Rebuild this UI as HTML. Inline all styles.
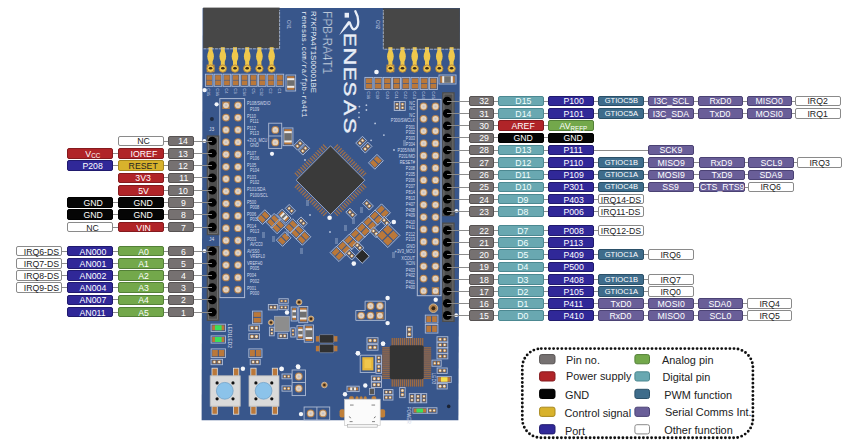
<!DOCTYPE html>
<html><head><meta charset="utf-8"><style>
html,body{margin:0;padding:0;background:#fff;}
body{width:850px;height:445px;overflow:hidden;position:relative;font-family:"Liberation Sans",sans-serif;}
.b{position:absolute;height:8.8px;border:1px solid;border-radius:2px;display:flex;justify-content:center;align-items:center;line-height:8.8px;white-space:nowrap;overflow:visible;box-sizing:content-box;}
.b sub{font-size:6.5px;vertical-align:-1.2px;line-height:0;}
.b .t{display:inline-block;position:relative;top:0.9px;transform:scaleX(0.96);}
.ln{position:absolute;height:1px;background:#8c8c8c;}
svg{position:absolute;left:0;top:0;}
.lg{position:absolute;font-size:10.5px;color:#222;line-height:12px;white-space:nowrap;}
.sw{position:absolute;width:14px;height:8px;border:1px solid;border-radius:2px;}
</style></head><body>
<svg width="850" height="445" viewBox="0 0 850 445" font-family="Liberation Sans, sans-serif">
<path d="M202.6 8 L460 8 L458.4 420.3 L201.6 420.3 Z" fill="#38568b"/>
<rect x="203.2" y="7.6" width="76.4" height="41" fill="#474747"/>
<rect x="383" y="8.4" width="76.8" height="40.6" fill="#474747"/>
<rect x="206.7" y="64.6" width="7.8" height="7.6" fill="#c9913e"/>
<rect x="208.6" y="47.2" width="4" height="20" fill="#efc84c"/>
<ellipse cx="210.6" cy="56.2" rx="3.3" ry="6" fill="#efc84c"/>
<circle cx="210.6" cy="68.6" r="3.7" fill="#efc84c" stroke="#b4823c" stroke-width="0.9"/>
<ellipse cx="210.6" cy="68.3" rx="1.8" ry="1.2" fill="#3a2a18"/>
<rect x="220.8" y="47.2" width="4" height="20" fill="#efc84c"/>
<ellipse cx="222.8" cy="56.2" rx="3.3" ry="6" fill="#efc84c"/>
<circle cx="222.8" cy="68.6" r="3.7" fill="#efc84c" stroke="#b4823c" stroke-width="0.9"/>
<ellipse cx="222.8" cy="68.3" rx="1.8" ry="1.2" fill="#3a2a18"/>
<rect x="233.0" y="47.2" width="4" height="20" fill="#efc84c"/>
<ellipse cx="235.0" cy="56.2" rx="3.3" ry="6" fill="#efc84c"/>
<circle cx="235.0" cy="68.6" r="3.7" fill="#efc84c" stroke="#b4823c" stroke-width="0.9"/>
<ellipse cx="235.0" cy="68.3" rx="1.8" ry="1.2" fill="#3a2a18"/>
<rect x="245.2" y="47.2" width="4" height="20" fill="#efc84c"/>
<ellipse cx="247.2" cy="56.2" rx="3.3" ry="6" fill="#efc84c"/>
<circle cx="247.2" cy="68.6" r="3.7" fill="#efc84c" stroke="#b4823c" stroke-width="0.9"/>
<ellipse cx="247.2" cy="68.3" rx="1.8" ry="1.2" fill="#3a2a18"/>
<rect x="257.4" y="47.2" width="4" height="20" fill="#efc84c"/>
<ellipse cx="259.4" cy="56.2" rx="3.3" ry="6" fill="#efc84c"/>
<circle cx="259.4" cy="68.6" r="3.7" fill="#efc84c" stroke="#b4823c" stroke-width="0.9"/>
<ellipse cx="259.4" cy="68.3" rx="1.8" ry="1.2" fill="#3a2a18"/>
<rect x="269.6" y="47.2" width="4" height="20" fill="#efc84c"/>
<ellipse cx="271.6" cy="56.2" rx="3.3" ry="6" fill="#efc84c"/>
<circle cx="271.6" cy="68.6" r="3.7" fill="#efc84c" stroke="#b4823c" stroke-width="0.9"/>
<ellipse cx="271.6" cy="68.3" rx="1.8" ry="1.2" fill="#3a2a18"/>
<rect x="386.5" y="64.6" width="7.8" height="7.6" fill="#c9913e"/>
<rect x="388.4" y="47.2" width="4" height="20" fill="#efc84c"/>
<ellipse cx="390.4" cy="56.2" rx="3.3" ry="6" fill="#efc84c"/>
<circle cx="390.4" cy="68.6" r="3.7" fill="#efc84c" stroke="#b4823c" stroke-width="0.9"/>
<ellipse cx="390.4" cy="68.3" rx="1.8" ry="1.2" fill="#3a2a18"/>
<rect x="400.5" y="47.2" width="4" height="20" fill="#efc84c"/>
<ellipse cx="402.5" cy="56.2" rx="3.3" ry="6" fill="#efc84c"/>
<circle cx="402.5" cy="68.6" r="3.7" fill="#efc84c" stroke="#b4823c" stroke-width="0.9"/>
<ellipse cx="402.5" cy="68.3" rx="1.8" ry="1.2" fill="#3a2a18"/>
<rect x="412.7" y="47.2" width="4" height="20" fill="#efc84c"/>
<ellipse cx="414.7" cy="56.2" rx="3.3" ry="6" fill="#efc84c"/>
<circle cx="414.7" cy="68.6" r="3.7" fill="#efc84c" stroke="#b4823c" stroke-width="0.9"/>
<ellipse cx="414.7" cy="68.3" rx="1.8" ry="1.2" fill="#3a2a18"/>
<rect x="425.0" y="47.2" width="4" height="20" fill="#efc84c"/>
<ellipse cx="427.0" cy="56.2" rx="3.3" ry="6" fill="#efc84c"/>
<circle cx="427.0" cy="68.6" r="3.7" fill="#efc84c" stroke="#b4823c" stroke-width="0.9"/>
<ellipse cx="427.0" cy="68.3" rx="1.8" ry="1.2" fill="#3a2a18"/>
<rect x="437.3" y="47.2" width="4" height="20" fill="#efc84c"/>
<ellipse cx="439.3" cy="56.2" rx="3.3" ry="6" fill="#efc84c"/>
<circle cx="439.3" cy="68.6" r="3.7" fill="#efc84c" stroke="#b4823c" stroke-width="0.9"/>
<ellipse cx="439.3" cy="68.3" rx="1.8" ry="1.2" fill="#3a2a18"/>
<rect x="449.6" y="47.2" width="4" height="20" fill="#efc84c"/>
<ellipse cx="451.6" cy="56.2" rx="3.3" ry="6" fill="#efc84c"/>
<circle cx="451.6" cy="68.6" r="3.7" fill="#efc84c" stroke="#b4823c" stroke-width="0.9"/>
<ellipse cx="451.6" cy="68.3" rx="1.8" ry="1.2" fill="#3a2a18"/>
<path d="M203.5 48.8 H279.6 V10" fill="none" stroke="#b9c6de" stroke-width="0.8" stroke-dasharray="3 0.8"/>
<path d="M459.6 49.2 H383.3 V10" fill="none" stroke="#b9c6de" stroke-width="0.8" stroke-dasharray="3 0.8"/>
<rect x="205.4" y="74.2" width="7.6" height="12.1" fill="none" stroke="#aebbd4" stroke-width="0.9"/>
<rect x="206.4" y="75.2" width="5.6" height="4.7" fill="#ba783a"/>
<rect x="206.4" y="80.5" width="5.6" height="4.7" fill="#ba783a"/>
<rect x="214.2" y="74.2" width="7.6" height="12.1" fill="none" stroke="#aebbd4" stroke-width="0.9"/>
<rect x="215.2" y="75.2" width="5.6" height="4.7" fill="#ba783a"/>
<rect x="215.2" y="80.5" width="5.6" height="4.7" fill="#ba783a"/>
<rect x="223.1" y="74.2" width="7.6" height="12.1" fill="none" stroke="#aebbd4" stroke-width="0.9"/>
<rect x="224.1" y="75.2" width="5.6" height="4.7" fill="#ba783a"/>
<rect x="224.1" y="80.5" width="5.6" height="4.7" fill="#ba783a"/>
<rect x="231.9" y="74.2" width="7.6" height="12.1" fill="none" stroke="#aebbd4" stroke-width="0.9"/>
<rect x="232.9" y="75.2" width="5.6" height="4.7" fill="#ba783a"/>
<rect x="232.9" y="80.5" width="5.6" height="4.7" fill="#ba783a"/>
<rect x="240.7" y="74.2" width="7.6" height="12.1" fill="none" stroke="#aebbd4" stroke-width="0.9"/>
<rect x="241.7" y="75.2" width="5.6" height="4.7" fill="#ba783a"/>
<rect x="241.7" y="80.5" width="5.6" height="4.7" fill="#ba783a"/>
<rect x="249.6" y="74.2" width="7.6" height="12.1" fill="none" stroke="#aebbd4" stroke-width="0.9"/>
<rect x="250.6" y="75.2" width="5.6" height="4.7" fill="#ba783a"/>
<rect x="250.6" y="80.5" width="5.6" height="4.7" fill="#ba783a"/>
<rect x="258.4" y="74.2" width="7.6" height="12.1" fill="none" stroke="#aebbd4" stroke-width="0.9"/>
<rect x="259.4" y="75.2" width="5.6" height="4.7" fill="#ba783a"/>
<rect x="259.4" y="80.5" width="5.6" height="4.7" fill="#ba783a"/>
<rect x="267.2" y="74.2" width="7.6" height="12.1" fill="none" stroke="#aebbd4" stroke-width="0.9"/>
<rect x="268.2" y="75.2" width="5.6" height="4.7" fill="#ba783a"/>
<rect x="268.2" y="80.5" width="5.6" height="4.7" fill="#ba783a"/>
<rect x="276.1" y="74.2" width="7.6" height="12.1" fill="none" stroke="#aebbd4" stroke-width="0.9"/>
<rect x="277.1" y="75.2" width="5.6" height="4.7" fill="#ba783a"/>
<rect x="277.1" y="80.5" width="5.6" height="4.7" fill="#ba783a"/>
<rect x="364.9" y="77.4" width="8.0" height="12.1" fill="none" stroke="#aebbd4" stroke-width="0.9"/>
<rect x="365.9" y="78.4" width="6.0" height="4.7" fill="#ba783a"/>
<rect x="365.9" y="83.8" width="6.0" height="4.7" fill="#ba783a"/>
<rect x="374.1" y="77.4" width="8.0" height="12.1" fill="none" stroke="#aebbd4" stroke-width="0.9"/>
<rect x="375.1" y="78.4" width="6.0" height="4.7" fill="#ba783a"/>
<rect x="375.1" y="83.8" width="6.0" height="4.7" fill="#ba783a"/>
<rect x="383.3" y="77.4" width="8.0" height="12.1" fill="none" stroke="#aebbd4" stroke-width="0.9"/>
<rect x="384.3" y="78.4" width="6.0" height="4.7" fill="#ba783a"/>
<rect x="384.3" y="83.8" width="6.0" height="4.7" fill="#ba783a"/>
<rect x="392.5" y="77.4" width="8.0" height="12.1" fill="none" stroke="#aebbd4" stroke-width="0.9"/>
<rect x="393.5" y="78.4" width="6.0" height="4.7" fill="#ba783a"/>
<rect x="393.5" y="83.8" width="6.0" height="4.7" fill="#ba783a"/>
<rect x="401.8" y="77.4" width="8.0" height="12.1" fill="none" stroke="#aebbd4" stroke-width="0.9"/>
<rect x="402.8" y="78.4" width="6.0" height="4.7" fill="#ba783a"/>
<rect x="402.8" y="83.8" width="6.0" height="4.7" fill="#ba783a"/>
<rect x="411.0" y="77.4" width="8.0" height="12.1" fill="none" stroke="#aebbd4" stroke-width="0.9"/>
<rect x="412.0" y="78.4" width="6.0" height="4.7" fill="#ba783a"/>
<rect x="412.0" y="83.8" width="6.0" height="4.7" fill="#ba783a"/>
<rect x="420.2" y="77.4" width="8.0" height="12.1" fill="none" stroke="#aebbd4" stroke-width="0.9"/>
<rect x="421.2" y="78.4" width="6.0" height="4.7" fill="#ba783a"/>
<rect x="421.2" y="83.8" width="6.0" height="4.7" fill="#ba783a"/>
<rect x="429.4" y="77.4" width="8.0" height="12.1" fill="none" stroke="#aebbd4" stroke-width="0.9"/>
<rect x="430.4" y="78.4" width="6.0" height="4.7" fill="#ba783a"/>
<rect x="430.4" y="83.8" width="6.0" height="4.7" fill="#ba783a"/>
<g transform="translate(290.80,83.00) rotate(90)">
<rect x="-8.00" y="-4.85" width="16.00" height="9.70" fill="none" stroke="#aebbd4" stroke-width="0.9"/>
<rect x="-6.80" y="-3.65" width="13.60" height="7.30" fill="#ba783a"/>
<rect x="-4.80" y="-3.65" width="9.60" height="7.30" fill="#ececec"/>
<rect x="-2.80" y="-3.65" width="5.60" height="7.30" fill="#6f6f6f"/>
</g>
<g transform="translate(447.50,79.50) rotate(0)">
<rect x="-8.50" y="-4.50" width="17.00" height="9.00" fill="none" stroke="#aebbd4" stroke-width="0.9"/>
<rect x="-7.30" y="-3.30" width="14.60" height="6.60" fill="#ba783a"/>
<rect x="-5.30" y="-3.30" width="10.60" height="6.60" fill="#ececec"/>
<rect x="-3.30" y="-3.30" width="6.60" height="6.60" fill="#6f6f6f"/>
</g>
<text transform="translate(207.4,88.2) rotate(90)" font-size="4.2" fill="#c3cde2">C35</text>
<text transform="translate(216.2,88.2) rotate(90)" font-size="4.2" fill="#c3cde2">C36</text>
<text transform="translate(225.1,88.2) rotate(90)" font-size="4.2" fill="#c3cde2">C4</text>
<text transform="translate(233.9,88.2) rotate(90)" font-size="4.2" fill="#c3cde2">C3</text>
<text transform="translate(242.8,88.2) rotate(90)" font-size="4.2" fill="#c3cde2">C34</text>
<text transform="translate(251.6,88.2) rotate(90)" font-size="4.2" fill="#c3cde2">C5</text>
<text transform="translate(260.4,88.2) rotate(90)" font-size="4.2" fill="#c3cde2">C32</text>
<text transform="translate(269.2,88.2) rotate(90)" font-size="4.2" fill="#c3cde2">C2</text>
<text transform="translate(278.1,88.2) rotate(90)" font-size="4.2" fill="#c3cde2">C1</text>
<text transform="translate(367.1,91.2) rotate(90)" font-size="4.2" fill="#c3cde2">C38</text>
<text transform="translate(376.3,91.2) rotate(90)" font-size="4.2" fill="#c3cde2">C39</text>
<text transform="translate(385.5,91.2) rotate(90)" font-size="4.2" fill="#c3cde2">C40</text>
<text transform="translate(394.7,91.2) rotate(90)" font-size="4.2" fill="#c3cde2">C41</text>
<text transform="translate(404.0,91.2) rotate(90)" font-size="4.2" fill="#c3cde2">C42</text>
<text transform="translate(413.2,91.2) rotate(90)" font-size="4.2" fill="#c3cde2">C43</text>
<text transform="translate(422.4,91.2) rotate(90)" font-size="4.2" fill="#c3cde2">C44</text>
<text transform="translate(431.6,91.2) rotate(90)" font-size="4.2" fill="#c3cde2">C45</text>
<circle cx="204.6" cy="90.1" r="2.2" fill="#f4f6fa"/>
<circle cx="216.6" cy="104.3" r="2.1" fill="#f4f6fa"/>
<circle cx="211.9" cy="119.1" r="2.0" fill="#1e2a40"/>
<circle cx="376.5" cy="72.0" r="2.3" fill="#f4f6fa"/>
<g fill="#e9eef7">
<text transform="translate(301.6,11) rotate(90)" font-size="7.4" font-family="Liberation Mono">renesas.com/ra/fpb-ra4t1</text>
<text transform="translate(311.3,11) rotate(90)" font-size="7.8" letter-spacing="0.1">R7KFPA4T1S00001BE</text>
<text transform="translate(322.5,11) rotate(90)" font-size="12" letter-spacing="-0.2" stroke="#38568b" stroke-width="0.4">FPB-RA4T1</text>
<text transform="translate(343.5,34.75) rotate(90) scale(1.257,1)" x="-1.31" font-size="16" stroke="#e9eef7" stroke-width="0.40">E</text>
<text transform="translate(343.5,49.35) rotate(90) scale(1.589,1)" x="-1.31" font-size="16" stroke="#e9eef7" stroke-width="0.31">N</text>
<text transform="translate(343.5,68.45) rotate(90) scale(1.303,1)" x="-1.31" font-size="16" stroke="#e9eef7" stroke-width="0.38">E</text>
<text transform="translate(343.5,82.55) rotate(90) scale(1.379,1)" x="-0.73" font-size="16" stroke="#e9eef7" stroke-width="0.36">S</text>
<text transform="translate(343.5,99.95) rotate(90) scale(1.414,1)" x="-0.03" font-size="16" stroke="#e9eef7" stroke-width="0.35">A</text>
<text transform="translate(343.5,118.75) rotate(90) scale(1.466,1)" x="-0.73" font-size="16" stroke="#e9eef7" stroke-width="0.34">S</text>
</g>
<rect x="344.6" y="12.8" width="4.4" height="4.8" fill="#e9eef7"/>
<path d="M355.3 11.2 C358.9 17.2, 359.9 27.6, 354.3 29.3 C352.6 29.8, 351.6 27.5, 349.6 22.4" fill="none" stroke="#e9eef7" stroke-width="2.3" stroke-linecap="round"/>
<path d="M348.3 21.0 Q343.2 27.4, 339.2 35.2 Q345.2 29.6, 350.5 22.9 Z" fill="#e9eef7"/>
<text transform="translate(287,20) rotate(90)" font-size="4.5" fill="#c9d3e6">CN1</text>
<text transform="translate(376,20) rotate(90)" font-size="4.5" fill="#c9d3e6">CN2</text>
<rect x="219.8" y="98.6" width="24.799999999999983" height="199.00000000000003" fill="none" stroke="#aebbd4" stroke-width="1"/>
<rect x="222.3" y="101.6" width="7.4" height="7.4" fill="#b5804a"/>
<circle cx="226.0" cy="105.3" r="2.9" fill="#e3d2bf"/>
<circle cx="226.0" cy="105.3" r="1.0" fill="#b9bfd0"/>
<circle cx="238.0" cy="105.3" r="3.9" fill="#b5804a"/>
<circle cx="238.0" cy="105.3" r="2.9" fill="#e3d2bf"/>
<circle cx="238.0" cy="105.3" r="1.0" fill="#b9bfd0"/>
<circle cx="226.0" cy="117.6" r="3.9" fill="#b5804a"/>
<circle cx="226.0" cy="117.6" r="2.9" fill="#e3d2bf"/>
<circle cx="226.0" cy="117.6" r="1.0" fill="#b9bfd0"/>
<circle cx="238.0" cy="117.6" r="3.9" fill="#b5804a"/>
<circle cx="238.0" cy="117.6" r="2.9" fill="#e3d2bf"/>
<circle cx="238.0" cy="117.6" r="1.0" fill="#b9bfd0"/>
<circle cx="226.0" cy="129.9" r="3.9" fill="#b5804a"/>
<circle cx="226.0" cy="129.9" r="2.9" fill="#e3d2bf"/>
<circle cx="226.0" cy="129.9" r="1.0" fill="#b9bfd0"/>
<circle cx="238.0" cy="129.9" r="3.9" fill="#b5804a"/>
<circle cx="238.0" cy="129.9" r="2.9" fill="#e3d2bf"/>
<circle cx="238.0" cy="129.9" r="1.0" fill="#b9bfd0"/>
<circle cx="226.0" cy="142.2" r="3.9" fill="#b5804a"/>
<circle cx="226.0" cy="142.2" r="2.9" fill="#e3d2bf"/>
<circle cx="226.0" cy="142.2" r="1.0" fill="#b9bfd0"/>
<circle cx="238.0" cy="142.2" r="3.9" fill="#b5804a"/>
<circle cx="238.0" cy="142.2" r="2.9" fill="#e3d2bf"/>
<circle cx="238.0" cy="142.2" r="1.0" fill="#b9bfd0"/>
<circle cx="226.0" cy="154.5" r="3.9" fill="#b5804a"/>
<circle cx="226.0" cy="154.5" r="2.9" fill="#e3d2bf"/>
<circle cx="226.0" cy="154.5" r="1.0" fill="#b9bfd0"/>
<circle cx="238.0" cy="154.5" r="3.9" fill="#b5804a"/>
<circle cx="238.0" cy="154.5" r="2.9" fill="#e3d2bf"/>
<circle cx="238.0" cy="154.5" r="1.0" fill="#b9bfd0"/>
<circle cx="226.0" cy="166.8" r="3.9" fill="#b5804a"/>
<circle cx="226.0" cy="166.8" r="2.9" fill="#e3d2bf"/>
<circle cx="226.0" cy="166.8" r="1.0" fill="#b9bfd0"/>
<circle cx="238.0" cy="166.8" r="3.9" fill="#b5804a"/>
<circle cx="238.0" cy="166.8" r="2.9" fill="#e3d2bf"/>
<circle cx="238.0" cy="166.8" r="1.0" fill="#b9bfd0"/>
<circle cx="226.0" cy="179.0" r="3.9" fill="#b5804a"/>
<circle cx="226.0" cy="179.0" r="2.9" fill="#e3d2bf"/>
<circle cx="226.0" cy="179.0" r="1.0" fill="#b9bfd0"/>
<circle cx="238.0" cy="179.0" r="3.9" fill="#b5804a"/>
<circle cx="238.0" cy="179.0" r="2.9" fill="#e3d2bf"/>
<circle cx="238.0" cy="179.0" r="1.0" fill="#b9bfd0"/>
<circle cx="226.0" cy="191.3" r="3.9" fill="#b5804a"/>
<circle cx="226.0" cy="191.3" r="2.9" fill="#e3d2bf"/>
<circle cx="226.0" cy="191.3" r="1.0" fill="#b9bfd0"/>
<circle cx="238.0" cy="191.3" r="3.9" fill="#b5804a"/>
<circle cx="238.0" cy="191.3" r="2.9" fill="#e3d2bf"/>
<circle cx="238.0" cy="191.3" r="1.0" fill="#b9bfd0"/>
<circle cx="226.0" cy="203.6" r="3.9" fill="#b5804a"/>
<circle cx="226.0" cy="203.6" r="2.9" fill="#e3d2bf"/>
<circle cx="226.0" cy="203.6" r="1.0" fill="#b9bfd0"/>
<circle cx="238.0" cy="203.6" r="3.9" fill="#b5804a"/>
<circle cx="238.0" cy="203.6" r="2.9" fill="#e3d2bf"/>
<circle cx="238.0" cy="203.6" r="1.0" fill="#b9bfd0"/>
<circle cx="226.0" cy="215.9" r="3.9" fill="#b5804a"/>
<circle cx="226.0" cy="215.9" r="2.9" fill="#e3d2bf"/>
<circle cx="226.0" cy="215.9" r="1.0" fill="#b9bfd0"/>
<circle cx="238.0" cy="215.9" r="3.9" fill="#b5804a"/>
<circle cx="238.0" cy="215.9" r="2.9" fill="#e3d2bf"/>
<circle cx="238.0" cy="215.9" r="1.0" fill="#b9bfd0"/>
<circle cx="226.0" cy="228.2" r="3.9" fill="#b5804a"/>
<circle cx="226.0" cy="228.2" r="2.9" fill="#e3d2bf"/>
<circle cx="226.0" cy="228.2" r="1.0" fill="#b9bfd0"/>
<circle cx="238.0" cy="228.2" r="3.9" fill="#b5804a"/>
<circle cx="238.0" cy="228.2" r="2.9" fill="#e3d2bf"/>
<circle cx="238.0" cy="228.2" r="1.0" fill="#b9bfd0"/>
<circle cx="226.0" cy="240.5" r="3.9" fill="#b5804a"/>
<circle cx="226.0" cy="240.5" r="2.9" fill="#e3d2bf"/>
<circle cx="226.0" cy="240.5" r="1.0" fill="#b9bfd0"/>
<circle cx="238.0" cy="240.5" r="3.9" fill="#b5804a"/>
<circle cx="238.0" cy="240.5" r="2.9" fill="#e3d2bf"/>
<circle cx="238.0" cy="240.5" r="1.0" fill="#b9bfd0"/>
<circle cx="226.0" cy="252.8" r="3.9" fill="#b5804a"/>
<circle cx="226.0" cy="252.8" r="2.9" fill="#e3d2bf"/>
<circle cx="226.0" cy="252.8" r="1.0" fill="#b9bfd0"/>
<circle cx="238.0" cy="252.8" r="3.9" fill="#b5804a"/>
<circle cx="238.0" cy="252.8" r="2.9" fill="#e3d2bf"/>
<circle cx="238.0" cy="252.8" r="1.0" fill="#b9bfd0"/>
<circle cx="226.0" cy="265.1" r="3.9" fill="#b5804a"/>
<circle cx="226.0" cy="265.1" r="2.9" fill="#e3d2bf"/>
<circle cx="226.0" cy="265.1" r="1.0" fill="#b9bfd0"/>
<circle cx="238.0" cy="265.1" r="3.9" fill="#b5804a"/>
<circle cx="238.0" cy="265.1" r="2.9" fill="#e3d2bf"/>
<circle cx="238.0" cy="265.1" r="1.0" fill="#b9bfd0"/>
<circle cx="226.0" cy="277.4" r="3.9" fill="#b5804a"/>
<circle cx="226.0" cy="277.4" r="2.9" fill="#e3d2bf"/>
<circle cx="226.0" cy="277.4" r="1.0" fill="#b9bfd0"/>
<circle cx="238.0" cy="277.4" r="3.9" fill="#b5804a"/>
<circle cx="238.0" cy="277.4" r="2.9" fill="#e3d2bf"/>
<circle cx="238.0" cy="277.4" r="1.0" fill="#b9bfd0"/>
<circle cx="226.0" cy="289.6" r="3.9" fill="#b5804a"/>
<circle cx="226.0" cy="289.6" r="2.9" fill="#e3d2bf"/>
<circle cx="226.0" cy="289.6" r="1.0" fill="#b9bfd0"/>
<circle cx="238.0" cy="289.6" r="3.9" fill="#b5804a"/>
<circle cx="238.0" cy="289.6" r="2.9" fill="#e3d2bf"/>
<circle cx="238.0" cy="289.6" r="1.0" fill="#b9bfd0"/>
<rect x="417.3" y="99.4" width="23.69999999999999" height="196.29999999999998" fill="none" stroke="#aebbd4" stroke-width="1"/>
<circle cx="423.6" cy="106.5" r="3.9" fill="#b5804a"/>
<circle cx="423.6" cy="106.5" r="2.9" fill="#e3d2bf"/>
<circle cx="423.6" cy="106.5" r="1.0" fill="#b9bfd0"/>
<circle cx="435.5" cy="106.5" r="3.9" fill="#b5804a"/>
<circle cx="435.5" cy="106.5" r="2.9" fill="#e3d2bf"/>
<circle cx="435.5" cy="106.5" r="1.0" fill="#b9bfd0"/>
<circle cx="423.6" cy="118.8" r="3.9" fill="#b5804a"/>
<circle cx="423.6" cy="118.8" r="2.9" fill="#e3d2bf"/>
<circle cx="423.6" cy="118.8" r="1.0" fill="#b9bfd0"/>
<circle cx="435.5" cy="118.8" r="3.9" fill="#b5804a"/>
<circle cx="435.5" cy="118.8" r="2.9" fill="#e3d2bf"/>
<circle cx="435.5" cy="118.8" r="1.0" fill="#b9bfd0"/>
<circle cx="423.6" cy="131.1" r="3.9" fill="#b5804a"/>
<circle cx="423.6" cy="131.1" r="2.9" fill="#e3d2bf"/>
<circle cx="423.6" cy="131.1" r="1.0" fill="#b9bfd0"/>
<circle cx="435.5" cy="131.1" r="3.9" fill="#b5804a"/>
<circle cx="435.5" cy="131.1" r="2.9" fill="#e3d2bf"/>
<circle cx="435.5" cy="131.1" r="1.0" fill="#b9bfd0"/>
<circle cx="423.6" cy="143.4" r="3.9" fill="#b5804a"/>
<circle cx="423.6" cy="143.4" r="2.9" fill="#e3d2bf"/>
<circle cx="423.6" cy="143.4" r="1.0" fill="#b9bfd0"/>
<circle cx="435.5" cy="143.4" r="3.9" fill="#b5804a"/>
<circle cx="435.5" cy="143.4" r="2.9" fill="#e3d2bf"/>
<circle cx="435.5" cy="143.4" r="1.0" fill="#b9bfd0"/>
<circle cx="423.6" cy="155.7" r="3.9" fill="#b5804a"/>
<circle cx="423.6" cy="155.7" r="2.9" fill="#e3d2bf"/>
<circle cx="423.6" cy="155.7" r="1.0" fill="#b9bfd0"/>
<circle cx="435.5" cy="155.7" r="3.9" fill="#b5804a"/>
<circle cx="435.5" cy="155.7" r="2.9" fill="#e3d2bf"/>
<circle cx="435.5" cy="155.7" r="1.0" fill="#b9bfd0"/>
<circle cx="423.6" cy="167.9" r="3.9" fill="#b5804a"/>
<circle cx="423.6" cy="167.9" r="2.9" fill="#e3d2bf"/>
<circle cx="423.6" cy="167.9" r="1.0" fill="#b9bfd0"/>
<circle cx="435.5" cy="167.9" r="3.9" fill="#b5804a"/>
<circle cx="435.5" cy="167.9" r="2.9" fill="#e3d2bf"/>
<circle cx="435.5" cy="167.9" r="1.0" fill="#b9bfd0"/>
<circle cx="423.6" cy="180.2" r="3.9" fill="#b5804a"/>
<circle cx="423.6" cy="180.2" r="2.9" fill="#e3d2bf"/>
<circle cx="423.6" cy="180.2" r="1.0" fill="#b9bfd0"/>
<circle cx="435.5" cy="180.2" r="3.9" fill="#b5804a"/>
<circle cx="435.5" cy="180.2" r="2.9" fill="#e3d2bf"/>
<circle cx="435.5" cy="180.2" r="1.0" fill="#b9bfd0"/>
<circle cx="423.6" cy="192.5" r="3.9" fill="#b5804a"/>
<circle cx="423.6" cy="192.5" r="2.9" fill="#e3d2bf"/>
<circle cx="423.6" cy="192.5" r="1.0" fill="#b9bfd0"/>
<circle cx="435.5" cy="192.5" r="3.9" fill="#b5804a"/>
<circle cx="435.5" cy="192.5" r="2.9" fill="#e3d2bf"/>
<circle cx="435.5" cy="192.5" r="1.0" fill="#b9bfd0"/>
<circle cx="423.6" cy="204.8" r="3.9" fill="#b5804a"/>
<circle cx="423.6" cy="204.8" r="2.9" fill="#e3d2bf"/>
<circle cx="423.6" cy="204.8" r="1.0" fill="#b9bfd0"/>
<circle cx="435.5" cy="204.8" r="3.9" fill="#b5804a"/>
<circle cx="435.5" cy="204.8" r="2.9" fill="#e3d2bf"/>
<circle cx="435.5" cy="204.8" r="1.0" fill="#b9bfd0"/>
<circle cx="423.6" cy="217.1" r="3.9" fill="#b5804a"/>
<circle cx="423.6" cy="217.1" r="2.9" fill="#e3d2bf"/>
<circle cx="423.6" cy="217.1" r="1.0" fill="#b9bfd0"/>
<circle cx="435.5" cy="217.1" r="3.9" fill="#b5804a"/>
<circle cx="435.5" cy="217.1" r="2.9" fill="#e3d2bf"/>
<circle cx="435.5" cy="217.1" r="1.0" fill="#b9bfd0"/>
<circle cx="423.6" cy="229.4" r="3.9" fill="#b5804a"/>
<circle cx="423.6" cy="229.4" r="2.9" fill="#e3d2bf"/>
<circle cx="423.6" cy="229.4" r="1.0" fill="#b9bfd0"/>
<circle cx="435.5" cy="229.4" r="3.9" fill="#b5804a"/>
<circle cx="435.5" cy="229.4" r="2.9" fill="#e3d2bf"/>
<circle cx="435.5" cy="229.4" r="1.0" fill="#b9bfd0"/>
<circle cx="423.6" cy="241.7" r="3.9" fill="#b5804a"/>
<circle cx="423.6" cy="241.7" r="2.9" fill="#e3d2bf"/>
<circle cx="423.6" cy="241.7" r="1.0" fill="#b9bfd0"/>
<circle cx="435.5" cy="241.7" r="3.9" fill="#b5804a"/>
<circle cx="435.5" cy="241.7" r="2.9" fill="#e3d2bf"/>
<circle cx="435.5" cy="241.7" r="1.0" fill="#b9bfd0"/>
<circle cx="423.6" cy="254.0" r="3.9" fill="#b5804a"/>
<circle cx="423.6" cy="254.0" r="2.9" fill="#e3d2bf"/>
<circle cx="423.6" cy="254.0" r="1.0" fill="#b9bfd0"/>
<circle cx="435.5" cy="254.0" r="3.9" fill="#b5804a"/>
<circle cx="435.5" cy="254.0" r="2.9" fill="#e3d2bf"/>
<circle cx="435.5" cy="254.0" r="1.0" fill="#b9bfd0"/>
<circle cx="423.6" cy="266.3" r="3.9" fill="#b5804a"/>
<circle cx="423.6" cy="266.3" r="2.9" fill="#e3d2bf"/>
<circle cx="423.6" cy="266.3" r="1.0" fill="#b9bfd0"/>
<circle cx="435.5" cy="266.3" r="3.9" fill="#b5804a"/>
<circle cx="435.5" cy="266.3" r="2.9" fill="#e3d2bf"/>
<circle cx="435.5" cy="266.3" r="1.0" fill="#b9bfd0"/>
<circle cx="423.6" cy="278.6" r="3.9" fill="#b5804a"/>
<circle cx="423.6" cy="278.6" r="2.9" fill="#e3d2bf"/>
<circle cx="423.6" cy="278.6" r="1.0" fill="#b9bfd0"/>
<circle cx="435.5" cy="278.6" r="3.9" fill="#b5804a"/>
<circle cx="435.5" cy="278.6" r="2.9" fill="#e3d2bf"/>
<circle cx="435.5" cy="278.6" r="1.0" fill="#b9bfd0"/>
<circle cx="423.6" cy="290.9" r="3.9" fill="#b5804a"/>
<circle cx="423.6" cy="290.9" r="2.9" fill="#e3d2bf"/>
<circle cx="423.6" cy="290.9" r="1.0" fill="#b9bfd0"/>
<rect x="431.8" y="287.2" width="7.4" height="7.4" fill="#b5804a"/>
<circle cx="435.5" cy="290.9" r="2.9" fill="#e3d2bf"/>
<circle cx="435.5" cy="290.9" r="1.0" fill="#b9bfd0"/>
<text transform="translate(247,105.3) scale(0.82,1)" font-size="4.8" fill="#d5dceb">P108/SWDIO</text>
<text transform="translate(250,110.5) scale(0.82,1)" font-size="4.8" fill="#d5dceb">P109</text>
<text transform="translate(247,117.6) scale(0.82,1)" font-size="4.8" fill="#d5dceb">P110</text>
<text transform="translate(250,122.8) scale(0.82,1)" font-size="4.8" fill="#d5dceb">P111</text>
<text transform="translate(247,129.9) scale(0.82,1)" font-size="4.8" fill="#d5dceb">P112</text>
<text transform="translate(250,135.1) scale(0.82,1)" font-size="4.8" fill="#d5dceb">P113</text>
<text transform="translate(247,142.2) scale(0.82,1)" font-size="4.8" fill="#d5dceb">+3V3_MCU</text>
<text transform="translate(250,147.4) scale(0.82,1)" font-size="4.8" fill="#d5dceb">GND</text>
<text transform="translate(247,154.5) scale(0.82,1)" font-size="4.8" fill="#d5dceb">P107</text>
<text transform="translate(250,159.7) scale(0.82,1)" font-size="4.8" fill="#d5dceb">P106</text>
<text transform="translate(247,166.8) scale(0.82,1)" font-size="4.8" fill="#d5dceb">P105</text>
<text transform="translate(250,171.9) scale(0.82,1)" font-size="4.8" fill="#d5dceb">P104</text>
<text transform="translate(247,179.0) scale(0.82,1)" font-size="4.8" fill="#d5dceb">P103</text>
<text transform="translate(250,184.2) scale(0.82,1)" font-size="4.8" fill="#d5dceb">P102</text>
<text transform="translate(247,191.3) scale(0.82,1)" font-size="4.8" fill="#d5dceb">P101/SDA</text>
<text transform="translate(250,196.5) scale(0.82,1)" font-size="4.8" fill="#d5dceb">P100/SCL</text>
<text transform="translate(247,203.6) scale(0.82,1)" font-size="4.8" fill="#d5dceb">P500</text>
<text transform="translate(250,208.8) scale(0.82,1)" font-size="4.8" fill="#d5dceb">P008</text>
<text transform="translate(247,215.9) scale(0.82,1)" font-size="4.8" fill="#d5dceb">P006</text>
<text transform="translate(250,221.1) scale(0.82,1)" font-size="4.8" fill="#d5dceb">P015</text>
<text transform="translate(247,228.2) scale(0.82,1)" font-size="4.8" fill="#d5dceb">P014</text>
<text transform="translate(250,233.4) scale(0.82,1)" font-size="4.8" fill="#d5dceb">P013</text>
<text transform="translate(247,240.5) scale(0.82,1)" font-size="4.8" fill="#d5dceb">P003</text>
<text transform="translate(250,245.7) scale(0.82,1)" font-size="4.8" fill="#d5dceb">AVCC0</text>
<text transform="translate(247,252.8) scale(0.82,1)" font-size="4.8" fill="#d5dceb">AVSS0</text>
<text transform="translate(250,258.0) scale(0.82,1)" font-size="4.8" fill="#d5dceb">VREFL0</text>
<text transform="translate(247,265.1) scale(0.82,1)" font-size="4.8" fill="#d5dceb">VREFH0</text>
<text transform="translate(250,270.3) scale(0.82,1)" font-size="4.8" fill="#d5dceb">P005</text>
<text transform="translate(247,277.4) scale(0.82,1)" font-size="4.8" fill="#d5dceb">P004</text>
<text transform="translate(250,282.6) scale(0.82,1)" font-size="4.8" fill="#d5dceb">P002</text>
<text transform="translate(247,289.6) scale(0.82,1)" font-size="4.8" fill="#d5dceb">P001</text>
<text transform="translate(250,294.8) scale(0.82,1)" font-size="4.8" fill="#d5dceb">P000</text>
<text transform="translate(415,104.6) scale(0.82,1)" font-size="4.8" fill="#d5dceb" text-anchor="end">NC</text>
<text transform="translate(415,109.9) scale(0.82,1)" font-size="4.8" fill="#d5dceb" text-anchor="end">NC</text>
<text transform="translate(415,116.5) scale(0.82,1)" font-size="4.8" fill="#d5dceb" text-anchor="end">NC</text>
<text transform="translate(415,121.8) scale(0.82,1)" font-size="4.8" fill="#d5dceb" text-anchor="end">P300/SWCLK</text>
<text transform="translate(415,128.5) scale(0.82,1)" font-size="4.8" fill="#d5dceb" text-anchor="end">P301</text>
<text transform="translate(415,133.8) scale(0.82,1)" font-size="4.8" fill="#d5dceb" text-anchor="end">P302</text>
<text transform="translate(415,140.4) scale(0.82,1)" font-size="4.8" fill="#d5dceb" text-anchor="end">P303</text>
<text transform="translate(415,145.8) scale(0.82,1)" font-size="4.8" fill="#d5dceb" text-anchor="end">P304</text>
<text transform="translate(415,152.4) scale(0.82,1)" font-size="4.8" fill="#d5dceb" text-anchor="end">P205/NMI</text>
<text transform="translate(415,157.7) scale(0.82,1)" font-size="4.8" fill="#d5dceb" text-anchor="end">P201/MD</text>
<text transform="translate(415,164.3) scale(0.82,1)" font-size="4.8" fill="#d5dceb" text-anchor="end">RESET#</text>
<text transform="translate(415,169.7) scale(0.82,1)" font-size="4.8" fill="#d5dceb" text-anchor="end">P208</text>
<text transform="translate(415,176.3) scale(0.82,1)" font-size="4.8" fill="#d5dceb" text-anchor="end">P205</text>
<text transform="translate(415,181.6) scale(0.82,1)" font-size="4.8" fill="#d5dceb" text-anchor="end">P206</text>
<text transform="translate(415,188.2) scale(0.82,1)" font-size="4.8" fill="#d5dceb" text-anchor="end">P207</text>
<text transform="translate(415,193.6) scale(0.82,1)" font-size="4.8" fill="#d5dceb" text-anchor="end">P814</text>
<text transform="translate(415,200.2) scale(0.82,1)" font-size="4.8" fill="#d5dceb" text-anchor="end">P813</text>
<text transform="translate(415,205.5) scale(0.82,1)" font-size="4.8" fill="#d5dceb" text-anchor="end">P407</text>
<text transform="translate(415,212.1) scale(0.82,1)" font-size="4.8" fill="#d5dceb" text-anchor="end">P408</text>
<text transform="translate(415,217.4) scale(0.82,1)" font-size="4.8" fill="#d5dceb" text-anchor="end">P409</text>
<text transform="translate(415,224.1) scale(0.82,1)" font-size="4.8" fill="#d5dceb" text-anchor="end">P410</text>
<text transform="translate(415,229.4) scale(0.82,1)" font-size="4.8" fill="#d5dceb" text-anchor="end">P411</text>
<text transform="translate(415,236.0) scale(0.82,1)" font-size="4.8" fill="#d5dceb" text-anchor="end">P212</text>
<text transform="translate(415,241.3) scale(0.82,1)" font-size="4.8" fill="#d5dceb" text-anchor="end">P213</text>
<text transform="translate(415,248.0) scale(0.82,1)" font-size="4.8" fill="#d5dceb" text-anchor="end">GND</text>
<text transform="translate(415,253.3) scale(0.82,1)" font-size="4.8" fill="#d5dceb" text-anchor="end">+3V3_MCU</text>
<text transform="translate(415,259.9) scale(0.82,1)" font-size="4.8" fill="#d5dceb" text-anchor="end">XCOUT</text>
<text transform="translate(415,265.2) scale(0.82,1)" font-size="4.8" fill="#d5dceb" text-anchor="end">XCIN</text>
<text transform="translate(415,271.9) scale(0.82,1)" font-size="4.8" fill="#d5dceb" text-anchor="end">P403</text>
<text transform="translate(415,277.2) scale(0.82,1)" font-size="4.8" fill="#d5dceb" text-anchor="end">P402</text>
<text transform="translate(415,283.9) scale(0.82,1)" font-size="4.8" fill="#d5dceb" text-anchor="end">P401</text>
<text transform="translate(415,289.2) scale(0.82,1)" font-size="4.8" fill="#d5dceb" text-anchor="end">P400</text>
<rect x="206.7" y="135.4" width="12.600000000000023" height="99.79999999999998" fill="#4d4d4d"/>
<rect x="208.5" y="137.20000000000002" width="9.000000000000023" height="96.19999999999999" fill="none" stroke="#777" stroke-width="0.8"/>
<circle cx="212.3" cy="141.0" r="4.3" fill="#000"/>
<circle cx="212.3" cy="153.3" r="4.3" fill="#000"/>
<circle cx="212.3" cy="165.6" r="4.3" fill="#000"/>
<circle cx="212.3" cy="177.9" r="4.3" fill="#000"/>
<circle cx="212.3" cy="190.2" r="4.3" fill="#000"/>
<circle cx="212.3" cy="202.5" r="4.3" fill="#000"/>
<circle cx="212.3" cy="214.8" r="4.3" fill="#000"/>
<circle cx="212.3" cy="227.1" r="4.3" fill="#000"/>
<rect x="206.7" y="246" width="12.600000000000023" height="75" fill="#4d4d4d"/>
<rect x="208.5" y="247.8" width="9.000000000000023" height="71.4" fill="none" stroke="#777" stroke-width="0.8"/>
<circle cx="212.3" cy="251.1" r="4.3" fill="#000"/>
<circle cx="212.3" cy="263.2" r="4.3" fill="#000"/>
<circle cx="212.3" cy="275.4" r="4.3" fill="#000"/>
<circle cx="212.3" cy="287.6" r="4.3" fill="#000"/>
<circle cx="212.3" cy="299.9" r="4.3" fill="#000"/>
<circle cx="212.3" cy="312.1" r="4.3" fill="#000"/>
<rect x="442.1" y="92.2" width="12.599999999999966" height="123.99999999999999" fill="#4d4d4d"/>
<rect x="443.90000000000003" y="94.0" width="8.999999999999966" height="120.39999999999999" fill="none" stroke="#777" stroke-width="0.8"/>
<circle cx="447.2" cy="101.0" r="4.3" fill="#000"/>
<circle cx="447.2" cy="113.4" r="4.3" fill="#000"/>
<circle cx="447.2" cy="125.7" r="4.3" fill="#000"/>
<circle cx="447.2" cy="137.9" r="4.3" fill="#000"/>
<circle cx="447.2" cy="150.0" r="4.3" fill="#000"/>
<circle cx="447.2" cy="162.7" r="4.3" fill="#000"/>
<circle cx="447.2" cy="174.9" r="4.3" fill="#000"/>
<circle cx="447.2" cy="187.0" r="4.3" fill="#000"/>
<circle cx="447.2" cy="199.1" r="4.3" fill="#000"/>
<circle cx="447.2" cy="211.2" r="4.3" fill="#000"/>
<rect x="442.1" y="222.5" width="12.599999999999966" height="99.5" fill="#4d4d4d"/>
<rect x="443.90000000000003" y="224.3" width="8.999999999999966" height="95.9" fill="none" stroke="#777" stroke-width="0.8"/>
<circle cx="447.2" cy="230.4" r="4.3" fill="#000"/>
<circle cx="447.2" cy="242.4" r="4.3" fill="#000"/>
<circle cx="447.2" cy="254.8" r="4.3" fill="#000"/>
<circle cx="447.2" cy="267.0" r="4.3" fill="#000"/>
<circle cx="447.2" cy="279.2" r="4.3" fill="#000"/>
<circle cx="447.2" cy="291.2" r="4.3" fill="#000"/>
<circle cx="447.2" cy="303.3" r="4.3" fill="#000"/>
<circle cx="447.2" cy="315.4" r="4.3" fill="#000"/>
<text x="209" y="131" font-size="5" fill="#d5dceb">J3</text>
<text x="209" y="241" font-size="5" fill="#d5dceb">J4</text>
<circle cx="204.4" cy="141.0" r="1.9" fill="#f4f6fa"/>
<circle cx="204.4" cy="251.0" r="1.9" fill="#f4f6fa"/>
<circle cx="456.5" cy="210.8" r="1.9" fill="#f4f6fa"/>
<circle cx="456.2" cy="315.2" r="1.9" fill="#f4f6fa"/>
<circle cx="359.4" cy="106.6" r="0.9" fill="#b9c6de"/>
<circle cx="366.4" cy="105.2" r="0.9" fill="#b9c6de"/>
<circle cx="359.0" cy="112.6" r="0.9" fill="#b9c6de"/>
<circle cx="366.4" cy="110.0" r="0.9" fill="#b9c6de"/>
<circle cx="359.0" cy="117.3" r="0.9" fill="#b9c6de"/>
<circle cx="375.1" cy="123.4" r="0.9" fill="#b9c6de"/>
<circle cx="383.9" cy="135.1" r="0.9" fill="#b9c6de"/>
<circle cx="371.1" cy="140.3" r="0.9" fill="#b9c6de"/>
<circle cx="394.0" cy="150.0" r="0.9" fill="#b9c6de"/>
<circle cx="305.0" cy="160.0" r="0.9" fill="#b9c6de"/>
<circle cx="310.0" cy="215.0" r="0.9" fill="#b9c6de"/>
<circle cx="330.0" cy="232.0" r="0.9" fill="#b9c6de"/>
<g transform="translate(330.5,180.2) rotate(45)">
<g transform="rotate(0)">
<rect x="-20.65" y="-30.5" width="1.3" height="5.2" fill="#9c6f4c"/>
<rect x="-17.99" y="-30.5" width="1.3" height="5.2" fill="#9c6f4c"/>
<rect x="-15.33" y="-30.5" width="1.3" height="5.2" fill="#9c6f4c"/>
<rect x="-12.67" y="-30.5" width="1.3" height="5.2" fill="#9c6f4c"/>
<rect x="-10.01" y="-30.5" width="1.3" height="5.2" fill="#9c6f4c"/>
<rect x="-7.35" y="-30.5" width="1.3" height="5.2" fill="#9c6f4c"/>
<rect x="-4.69" y="-30.5" width="1.3" height="5.2" fill="#9c6f4c"/>
<rect x="-2.03" y="-30.5" width="1.3" height="5.2" fill="#9c6f4c"/>
<rect x="0.63" y="-30.5" width="1.3" height="5.2" fill="#9c6f4c"/>
<rect x="3.29" y="-30.5" width="1.3" height="5.2" fill="#9c6f4c"/>
<rect x="5.95" y="-30.5" width="1.3" height="5.2" fill="#9c6f4c"/>
<rect x="8.61" y="-30.5" width="1.3" height="5.2" fill="#9c6f4c"/>
<rect x="11.27" y="-30.5" width="1.3" height="5.2" fill="#9c6f4c"/>
<rect x="13.93" y="-30.5" width="1.3" height="5.2" fill="#9c6f4c"/>
<rect x="16.59" y="-30.5" width="1.3" height="5.2" fill="#9c6f4c"/>
<rect x="19.25" y="-30.5" width="1.3" height="5.2" fill="#9c6f4c"/>
</g>
<g transform="rotate(90)">
<rect x="-20.65" y="-30.5" width="1.3" height="5.2" fill="#9c6f4c"/>
<rect x="-17.99" y="-30.5" width="1.3" height="5.2" fill="#9c6f4c"/>
<rect x="-15.33" y="-30.5" width="1.3" height="5.2" fill="#9c6f4c"/>
<rect x="-12.67" y="-30.5" width="1.3" height="5.2" fill="#9c6f4c"/>
<rect x="-10.01" y="-30.5" width="1.3" height="5.2" fill="#9c6f4c"/>
<rect x="-7.35" y="-30.5" width="1.3" height="5.2" fill="#9c6f4c"/>
<rect x="-4.69" y="-30.5" width="1.3" height="5.2" fill="#9c6f4c"/>
<rect x="-2.03" y="-30.5" width="1.3" height="5.2" fill="#9c6f4c"/>
<rect x="0.63" y="-30.5" width="1.3" height="5.2" fill="#9c6f4c"/>
<rect x="3.29" y="-30.5" width="1.3" height="5.2" fill="#9c6f4c"/>
<rect x="5.95" y="-30.5" width="1.3" height="5.2" fill="#9c6f4c"/>
<rect x="8.61" y="-30.5" width="1.3" height="5.2" fill="#9c6f4c"/>
<rect x="11.27" y="-30.5" width="1.3" height="5.2" fill="#9c6f4c"/>
<rect x="13.93" y="-30.5" width="1.3" height="5.2" fill="#9c6f4c"/>
<rect x="16.59" y="-30.5" width="1.3" height="5.2" fill="#9c6f4c"/>
<rect x="19.25" y="-30.5" width="1.3" height="5.2" fill="#9c6f4c"/>
</g>
<g transform="rotate(180)">
<rect x="-20.65" y="-30.5" width="1.3" height="5.2" fill="#9c6f4c"/>
<rect x="-17.99" y="-30.5" width="1.3" height="5.2" fill="#9c6f4c"/>
<rect x="-15.33" y="-30.5" width="1.3" height="5.2" fill="#9c6f4c"/>
<rect x="-12.67" y="-30.5" width="1.3" height="5.2" fill="#9c6f4c"/>
<rect x="-10.01" y="-30.5" width="1.3" height="5.2" fill="#9c6f4c"/>
<rect x="-7.35" y="-30.5" width="1.3" height="5.2" fill="#9c6f4c"/>
<rect x="-4.69" y="-30.5" width="1.3" height="5.2" fill="#9c6f4c"/>
<rect x="-2.03" y="-30.5" width="1.3" height="5.2" fill="#9c6f4c"/>
<rect x="0.63" y="-30.5" width="1.3" height="5.2" fill="#9c6f4c"/>
<rect x="3.29" y="-30.5" width="1.3" height="5.2" fill="#9c6f4c"/>
<rect x="5.95" y="-30.5" width="1.3" height="5.2" fill="#9c6f4c"/>
<rect x="8.61" y="-30.5" width="1.3" height="5.2" fill="#9c6f4c"/>
<rect x="11.27" y="-30.5" width="1.3" height="5.2" fill="#9c6f4c"/>
<rect x="13.93" y="-30.5" width="1.3" height="5.2" fill="#9c6f4c"/>
<rect x="16.59" y="-30.5" width="1.3" height="5.2" fill="#9c6f4c"/>
<rect x="19.25" y="-30.5" width="1.3" height="5.2" fill="#9c6f4c"/>
</g>
<g transform="rotate(270)">
<rect x="-20.65" y="-30.5" width="1.3" height="5.2" fill="#9c6f4c"/>
<rect x="-17.99" y="-30.5" width="1.3" height="5.2" fill="#9c6f4c"/>
<rect x="-15.33" y="-30.5" width="1.3" height="5.2" fill="#9c6f4c"/>
<rect x="-12.67" y="-30.5" width="1.3" height="5.2" fill="#9c6f4c"/>
<rect x="-10.01" y="-30.5" width="1.3" height="5.2" fill="#9c6f4c"/>
<rect x="-7.35" y="-30.5" width="1.3" height="5.2" fill="#9c6f4c"/>
<rect x="-4.69" y="-30.5" width="1.3" height="5.2" fill="#9c6f4c"/>
<rect x="-2.03" y="-30.5" width="1.3" height="5.2" fill="#9c6f4c"/>
<rect x="0.63" y="-30.5" width="1.3" height="5.2" fill="#9c6f4c"/>
<rect x="3.29" y="-30.5" width="1.3" height="5.2" fill="#9c6f4c"/>
<rect x="5.95" y="-30.5" width="1.3" height="5.2" fill="#9c6f4c"/>
<rect x="8.61" y="-30.5" width="1.3" height="5.2" fill="#9c6f4c"/>
<rect x="11.27" y="-30.5" width="1.3" height="5.2" fill="#9c6f4c"/>
<rect x="13.93" y="-30.5" width="1.3" height="5.2" fill="#9c6f4c"/>
<rect x="16.59" y="-30.5" width="1.3" height="5.2" fill="#9c6f4c"/>
<rect x="19.25" y="-30.5" width="1.3" height="5.2" fill="#9c6f4c"/>
</g>
<rect x="-24.3" y="-24.3" width="48.6" height="48.6" fill="#3a3a3a" stroke="#98a8c8" stroke-width="0.9"/>
</g>
<circle cx="329.6" cy="217.7" r="2.3" fill="#f4f6fa"/>
<rect x="268.7" y="123.2" width="13" height="25.2" fill="none" stroke="#aebbd4" stroke-width="0.9"/>
<line x1="268.7" y1="136" x2="281.7" y2="136" stroke="#aebbd4" stroke-width="0.9"/>
<circle cx="275.3" cy="129.9" r="3.9" fill="#b5804a"/>
<circle cx="275.3" cy="129.9" r="2.9" fill="#e3d2bf"/>
<circle cx="275.3" cy="129.9" r="1.0" fill="#b9bfd0"/>
<circle cx="275.3" cy="142.4" r="3.9" fill="#b5804a"/>
<circle cx="275.3" cy="142.4" r="2.9" fill="#e3d2bf"/>
<circle cx="275.3" cy="142.4" r="1.0" fill="#b9bfd0"/>
<g transform="translate(288.00,136.80) rotate(90)">
<rect x="-8.85" y="-4.95" width="17.70" height="9.90" fill="none" stroke="#aebbd4" stroke-width="0.9"/>
<rect x="-7.65" y="-3.75" width="15.30" height="7.50" fill="#ba783a"/>
<rect x="-5.65" y="-3.75" width="11.30" height="7.50" fill="#ececec"/>
<rect x="-3.65" y="-3.75" width="7.30" height="7.50" fill="#6f6f6f"/>
</g>
<circle cx="272.0" cy="153.8" r="2.1" fill="#f4f6fa"/>
<g transform="translate(298.80,144.70) rotate(-45)">
<rect x="-4.75" y="-3.00" width="9.50" height="6.00" fill="none" stroke="#aebbd4" stroke-width="0.9"/>
<rect x="-3.45" y="-1.90" width="3.05" height="3.80" fill="#a8743c"/>
<rect x="0.40" y="-1.90" width="3.05" height="3.80" fill="#a8743c"/>
<circle cx="-1.93" cy="0" r="1.10" fill="#f1e6d2"/>
<circle cx="1.93" cy="0" r="1.10" fill="#f1e6d2"/>
</g>
<g transform="translate(304.10,149.60) rotate(-45)">
<rect x="-4.75" y="-3.00" width="9.50" height="6.00" fill="none" stroke="#aebbd4" stroke-width="0.9"/>
<rect x="-3.45" y="-1.90" width="3.05" height="3.80" fill="#a8743c"/>
<rect x="0.40" y="-1.90" width="3.05" height="3.80" fill="#a8743c"/>
<circle cx="-1.93" cy="0" r="1.10" fill="#f1e6d2"/>
<circle cx="1.93" cy="0" r="1.10" fill="#f1e6d2"/>
</g>
<g transform="translate(361.20,141.80) rotate(-45)">
<rect x="-4.75" y="-3.00" width="9.50" height="6.00" fill="none" stroke="#aebbd4" stroke-width="0.9"/>
<rect x="-3.45" y="-1.90" width="3.05" height="3.80" fill="#a8743c"/>
<rect x="0.40" y="-1.90" width="3.05" height="3.80" fill="#a8743c"/>
<circle cx="-1.93" cy="0" r="1.10" fill="#f1e6d2"/>
<circle cx="1.93" cy="0" r="1.10" fill="#f1e6d2"/>
</g>
<g transform="translate(366.50,147.60) rotate(-45)">
<rect x="-4.75" y="-3.00" width="9.50" height="6.00" fill="none" stroke="#aebbd4" stroke-width="0.9"/>
<rect x="-3.45" y="-1.90" width="3.05" height="3.80" fill="#a8743c"/>
<rect x="0.40" y="-1.90" width="3.05" height="3.80" fill="#a8743c"/>
<circle cx="-1.93" cy="0" r="1.10" fill="#f1e6d2"/>
<circle cx="1.93" cy="0" r="1.10" fill="#f1e6d2"/>
</g>
<g transform="translate(375.90,161.80) rotate(-45)">
<rect x="-6.00" y="-4.50" width="12.00" height="9.00" fill="none" stroke="#aebbd4" stroke-width="0.9"/>
<rect x="-4.90" y="-3.40" width="4.40" height="6.80" fill="#ba783a"/>
<rect x="0.50" y="-3.40" width="4.40" height="6.80" fill="#ba783a"/>
</g>
<g transform="translate(397.00,106.00) rotate(90)">
<rect x="-4.50" y="-2.75" width="9.00" height="5.50" fill="none" stroke="#aebbd4" stroke-width="0.9"/>
<rect x="-3.20" y="-1.65" width="2.80" height="3.30" fill="#a8743c"/>
<rect x="0.40" y="-1.65" width="2.80" height="3.30" fill="#a8743c"/>
<circle cx="-1.80" cy="0" r="1.01" fill="#f1e6d2"/>
<circle cx="1.80" cy="0" r="1.01" fill="#f1e6d2"/>
</g>
<g transform="translate(402.50,106.00) rotate(90)">
<rect x="-4.50" y="-2.75" width="9.00" height="5.50" fill="none" stroke="#aebbd4" stroke-width="0.9"/>
<rect x="-3.20" y="-1.65" width="2.80" height="3.30" fill="#a8743c"/>
<rect x="0.40" y="-1.65" width="2.80" height="3.30" fill="#a8743c"/>
<circle cx="-1.80" cy="0" r="1.01" fill="#f1e6d2"/>
<circle cx="1.80" cy="0" r="1.01" fill="#f1e6d2"/>
</g>
<g transform="translate(263.70,217.10) rotate(-45)">
<rect x="-6.00" y="-4.40" width="12.00" height="8.80" fill="none" stroke="#aebbd4" stroke-width="0.9"/>
<rect x="-4.90" y="-3.30" width="4.40" height="6.60" fill="#ba783a"/>
<rect x="0.50" y="-3.30" width="4.40" height="6.60" fill="#ba783a"/>
</g>
<g transform="translate(273.00,220.80) rotate(-45)">
<rect x="-6.00" y="-4.40" width="12.00" height="8.80" fill="none" stroke="#aebbd4" stroke-width="0.9"/>
<rect x="-4.90" y="-3.30" width="4.40" height="6.60" fill="#ba783a"/>
<rect x="0.50" y="-3.30" width="4.40" height="6.60" fill="#ba783a"/>
</g>
<g transform="translate(278.30,226.40) rotate(-45)">
<rect x="-6.00" y="-4.40" width="12.00" height="8.80" fill="none" stroke="#aebbd4" stroke-width="0.9"/>
<rect x="-4.90" y="-3.30" width="4.40" height="6.60" fill="#ba783a"/>
<rect x="0.50" y="-3.30" width="4.40" height="6.60" fill="#ba783a"/>
</g>
<g transform="translate(291.50,226.10) rotate(-45)">
<rect x="-6.00" y="-4.40" width="12.00" height="8.80" fill="none" stroke="#aebbd4" stroke-width="0.9"/>
<rect x="-4.90" y="-3.30" width="4.40" height="6.60" fill="#ba783a"/>
<rect x="0.50" y="-3.30" width="4.40" height="6.60" fill="#ba783a"/>
</g>
<g transform="translate(297.40,231.70) rotate(-45)">
<rect x="-6.00" y="-4.40" width="12.00" height="8.80" fill="none" stroke="#aebbd4" stroke-width="0.9"/>
<rect x="-4.90" y="-3.30" width="4.40" height="6.60" fill="#ba783a"/>
<rect x="0.50" y="-3.30" width="4.40" height="6.60" fill="#ba783a"/>
</g>
<g transform="translate(303.50,237.90) rotate(-45)">
<rect x="-6.00" y="-4.40" width="12.00" height="8.80" fill="none" stroke="#aebbd4" stroke-width="0.9"/>
<rect x="-4.90" y="-3.30" width="4.40" height="6.60" fill="#ba783a"/>
<rect x="0.50" y="-3.30" width="4.40" height="6.60" fill="#ba783a"/>
</g>
<g transform="translate(283.70,239.00) rotate(-45)">
<rect x="-6.00" y="-4.40" width="12.00" height="8.80" fill="none" stroke="#aebbd4" stroke-width="0.9"/>
<rect x="-4.90" y="-3.30" width="4.40" height="6.60" fill="#ba783a"/>
<rect x="0.50" y="-3.30" width="4.40" height="6.60" fill="#ba783a"/>
</g>
<g transform="translate(283.90,216.30) rotate(45)">
<rect x="-6.25" y="-3.75" width="12.50" height="7.50" fill="none" stroke="#aebbd4" stroke-width="0.9"/>
<rect x="-5.05" y="-2.55" width="10.10" height="5.10" fill="#ba783a"/>
<rect x="-3.05" y="-2.55" width="6.10" height="5.10" fill="#ececec"/>
<rect x="-1.05" y="-2.55" width="2.10" height="5.10" fill="#6f6f6f"/>
</g>
<g transform="translate(290.40,209.60) rotate(45)">
<rect x="-4.50" y="-2.80" width="9.00" height="5.60" fill="none" stroke="#aebbd4" stroke-width="0.9"/>
<rect x="-3.20" y="-1.70" width="2.80" height="3.40" fill="#a8743c"/>
<rect x="0.40" y="-1.70" width="2.80" height="3.40" fill="#a8743c"/>
<circle cx="-1.80" cy="0" r="1.01" fill="#f1e6d2"/>
<circle cx="1.80" cy="0" r="1.01" fill="#f1e6d2"/>
</g>
<g transform="translate(302.20,222.10) rotate(45)">
<rect x="-4.50" y="-2.80" width="9.00" height="5.60" fill="none" stroke="#aebbd4" stroke-width="0.9"/>
<rect x="-3.20" y="-1.70" width="2.80" height="3.40" fill="#a8743c"/>
<rect x="0.40" y="-1.70" width="2.80" height="3.40" fill="#a8743c"/>
<circle cx="-1.80" cy="0" r="1.01" fill="#f1e6d2"/>
<circle cx="1.80" cy="0" r="1.01" fill="#f1e6d2"/>
</g>
<g transform="translate(382.80,211.50) rotate(45)">
<rect x="-6.30" y="-4.50" width="12.60" height="9.00" fill="none" stroke="#aebbd4" stroke-width="0.9"/>
<rect x="-5.20" y="-3.40" width="4.70" height="6.80" fill="#ba783a"/>
<rect x="0.50" y="-3.40" width="4.70" height="6.80" fill="#ba783a"/>
</g>
<g transform="translate(376.36,217.56) rotate(45)">
<rect x="-6.30" y="-4.50" width="12.60" height="9.00" fill="none" stroke="#aebbd4" stroke-width="0.9"/>
<rect x="-5.20" y="-3.40" width="4.70" height="6.80" fill="#ba783a"/>
<rect x="0.50" y="-3.40" width="4.70" height="6.80" fill="#ba783a"/>
</g>
<g transform="translate(369.91,223.61) rotate(45)">
<rect x="-6.30" y="-4.50" width="12.60" height="9.00" fill="none" stroke="#aebbd4" stroke-width="0.9"/>
<rect x="-5.20" y="-3.40" width="4.70" height="6.80" fill="#ba783a"/>
<rect x="0.50" y="-3.40" width="4.70" height="6.80" fill="#ba783a"/>
</g>
<g transform="translate(363.47,229.67) rotate(45)">
<rect x="-6.30" y="-4.50" width="12.60" height="9.00" fill="none" stroke="#aebbd4" stroke-width="0.9"/>
<rect x="-5.20" y="-3.40" width="4.70" height="6.80" fill="#ba783a"/>
<rect x="0.50" y="-3.40" width="4.70" height="6.80" fill="#ba783a"/>
</g>
<g transform="translate(357.03,235.73) rotate(45)">
<rect x="-6.30" y="-4.50" width="12.60" height="9.00" fill="none" stroke="#aebbd4" stroke-width="0.9"/>
<rect x="-5.20" y="-3.40" width="4.70" height="6.80" fill="#ba783a"/>
<rect x="0.50" y="-3.40" width="4.70" height="6.80" fill="#ba783a"/>
</g>
<g transform="translate(350.59,241.79) rotate(45)">
<rect x="-6.30" y="-4.50" width="12.60" height="9.00" fill="none" stroke="#aebbd4" stroke-width="0.9"/>
<rect x="-5.20" y="-3.40" width="4.70" height="6.80" fill="#ba783a"/>
<rect x="0.50" y="-3.40" width="4.70" height="6.80" fill="#ba783a"/>
</g>
<g transform="translate(344.14,247.84) rotate(45)">
<rect x="-6.30" y="-4.50" width="12.60" height="9.00" fill="none" stroke="#aebbd4" stroke-width="0.9"/>
<rect x="-5.20" y="-3.40" width="4.70" height="6.80" fill="#ba783a"/>
<rect x="0.50" y="-3.40" width="4.70" height="6.80" fill="#ba783a"/>
</g>
<g transform="translate(337.70,253.90) rotate(45)">
<rect x="-6.30" y="-4.50" width="12.60" height="9.00" fill="none" stroke="#aebbd4" stroke-width="0.9"/>
<rect x="-5.20" y="-3.40" width="4.70" height="6.80" fill="#ba783a"/>
<rect x="0.50" y="-3.40" width="4.70" height="6.80" fill="#ba783a"/>
</g>
<g transform="translate(351.20,213.50) rotate(45)">
<rect x="-4.70" y="-2.90" width="9.40" height="5.80" fill="none" stroke="#aebbd4" stroke-width="0.9"/>
<rect x="-3.40" y="-1.80" width="3.00" height="3.60" fill="#a8743c"/>
<rect x="0.40" y="-1.80" width="3.00" height="3.60" fill="#a8743c"/>
<circle cx="-1.90" cy="0" r="1.08" fill="#f1e6d2"/>
<circle cx="1.90" cy="0" r="1.08" fill="#f1e6d2"/>
</g>
<g transform="translate(368.00,204.70) rotate(45)">
<rect x="-4.70" y="-2.90" width="9.40" height="5.80" fill="none" stroke="#aebbd4" stroke-width="0.9"/>
<rect x="-3.40" y="-1.80" width="3.00" height="3.60" fill="#a8743c"/>
<rect x="0.40" y="-1.80" width="3.00" height="3.60" fill="#a8743c"/>
<circle cx="-1.90" cy="0" r="1.08" fill="#f1e6d2"/>
<circle cx="1.90" cy="0" r="1.08" fill="#f1e6d2"/>
</g>
<g transform="translate(385.50,221.60) rotate(45)">
<rect x="-4.70" y="-2.90" width="9.40" height="5.80" fill="none" stroke="#aebbd4" stroke-width="0.9"/>
<rect x="-3.40" y="-1.80" width="3.00" height="3.60" fill="#a8743c"/>
<rect x="0.40" y="-1.80" width="3.00" height="3.60" fill="#a8743c"/>
<circle cx="-1.90" cy="0" r="1.08" fill="#f1e6d2"/>
<circle cx="1.90" cy="0" r="1.08" fill="#f1e6d2"/>
</g>
<g transform="translate(374.80,232.30) rotate(45)">
<rect x="-4.70" y="-2.90" width="9.40" height="5.80" fill="none" stroke="#aebbd4" stroke-width="0.9"/>
<rect x="-3.40" y="-1.80" width="3.00" height="3.60" fill="#a8743c"/>
<rect x="0.40" y="-1.80" width="3.00" height="3.60" fill="#a8743c"/>
<circle cx="-1.90" cy="0" r="1.08" fill="#f1e6d2"/>
<circle cx="1.90" cy="0" r="1.08" fill="#f1e6d2"/>
</g>
<g transform="translate(358.60,246.50) rotate(45)">
<rect x="-4.70" y="-2.90" width="9.40" height="5.80" fill="none" stroke="#aebbd4" stroke-width="0.9"/>
<rect x="-3.40" y="-1.80" width="3.00" height="3.60" fill="#a8743c"/>
<rect x="0.40" y="-1.80" width="3.00" height="3.60" fill="#a8743c"/>
<circle cx="-1.90" cy="0" r="1.08" fill="#f1e6d2"/>
<circle cx="1.90" cy="0" r="1.08" fill="#f1e6d2"/>
</g>
<g transform="translate(350.50,254.60) rotate(45)">
<rect x="-4.70" y="-2.90" width="9.40" height="5.80" fill="none" stroke="#aebbd4" stroke-width="0.9"/>
<rect x="-3.40" y="-1.80" width="3.00" height="3.60" fill="#a8743c"/>
<rect x="0.40" y="-1.80" width="3.00" height="3.60" fill="#a8743c"/>
<circle cx="-1.90" cy="0" r="1.08" fill="#f1e6d2"/>
<circle cx="1.90" cy="0" r="1.08" fill="#f1e6d2"/>
</g>
<g transform="translate(387.8,235.4) rotate(45)">
<rect x="-8.6" y="-8.6" width="17.2" height="17.2" fill="none" stroke="#aebbd4" stroke-width="0.9"/>
<rect x="-7.4" y="-7.4" width="6.8" height="6.8" fill="#ba783a"/>
<rect x="0.6" y="-7.4" width="6.8" height="6.8" fill="#ba783a"/>
<rect x="-7.4" y="0.6" width="6.8" height="6.8" fill="#ba783a"/>
<rect x="0.6" y="0.6" width="6.8" height="6.8" fill="#ba783a"/>
</g>
<rect x="357.2" y="251.3" width="10" height="10" transform="rotate(45 362.2 256.3)" fill="#2a2a2a" stroke="#aebbd4" stroke-width="0.9"/>
<circle cx="353.8" cy="263.6" r="2.3" fill="#f4f6fa"/>
<circle cx="393.8" cy="222.0" r="2.3" fill="#f4f6fa"/>
<rect x="262" y="232" width="3" height="6" fill="#90a3c6" opacity="0.5"/>
<rect x="272" y="236" width="3" height="6" fill="#90a3c6" opacity="0.5"/>
<rect x="286" y="230" width="3" height="6" fill="#90a3c6" opacity="0.5"/>
<rect x="300" y="248" width="3" height="6" fill="#90a3c6" opacity="0.5"/>
<rect x="306" y="200" width="3" height="6" fill="#90a3c6" opacity="0.5"/>
<rect x="335" y="238" width="3" height="6" fill="#90a3c6" opacity="0.5"/>
<rect x="344" y="225" width="3" height="6" fill="#90a3c6" opacity="0.5"/>
<rect x="352" y="218" width="3" height="6" fill="#90a3c6" opacity="0.5"/>
<rect x="360" y="207" width="3" height="6" fill="#90a3c6" opacity="0.5"/>
<rect x="392" y="252" width="3" height="6" fill="#90a3c6" opacity="0.5"/>
<rect x="403" y="140" width="3" height="6" fill="#90a3c6" opacity="0.5"/>
<rect x="211.1" y="324.2" width="14.4" height="7.2" fill="none" stroke="#aebbd4" stroke-width="0.9"/>
<rect x="212.2" y="325.3" width="12.2" height="5" fill="#ba783a"/><rect x="215" y="325.3" width="6.6" height="5" fill="#39e05a"/>
<rect x="211.1" y="335.9" width="14.4" height="7.2" fill="none" stroke="#aebbd4" stroke-width="0.9"/>
<rect x="212.2" y="337" width="12.2" height="5" fill="#ba783a"/><rect x="215" y="337" width="6.6" height="5" fill="#39e05a"/>
<text transform="translate(228.4,323.6) rotate(90)" font-size="5" fill="#d5dceb">LED1</text>
<text transform="translate(228.4,335.4) rotate(90)" font-size="5" fill="#d5dceb">LED2</text>
<g transform="translate(218.30,353.20) rotate(0)">
<rect x="-7.20" y="-4.30" width="14.40" height="8.60" fill="none" stroke="#aebbd4" stroke-width="0.9"/>
<rect x="-6.10" y="-3.20" width="5.60" height="6.40" fill="#ba783a"/>
<rect x="0.50" y="-3.20" width="5.60" height="6.40" fill="#ba783a"/>
</g>
<g transform="translate(216.80,362.00) rotate(0)">
<rect x="-5.75" y="-2.70" width="11.50" height="5.40" fill="none" stroke="#aebbd4" stroke-width="0.9"/>
<rect x="-4.45" y="-1.60" width="4.05" height="3.20" fill="#a8743c"/>
<rect x="0.40" y="-1.60" width="4.05" height="3.20" fill="#a8743c"/>
<circle cx="-2.43" cy="0" r="1.15" fill="#f1e6d2"/>
<circle cx="2.42" cy="0" r="1.15" fill="#f1e6d2"/>
</g>
<g transform="translate(255.40,353.20) rotate(0)">
<rect x="-6.55" y="-4.30" width="13.10" height="8.60" fill="none" stroke="#aebbd4" stroke-width="0.9"/>
<rect x="-5.45" y="-3.20" width="4.95" height="6.40" fill="#ba783a"/>
<rect x="0.50" y="-3.20" width="4.95" height="6.40" fill="#ba783a"/>
</g>
<g transform="translate(255.20,362.00) rotate(0)">
<rect x="-5.00" y="-2.70" width="10.00" height="5.40" fill="none" stroke="#aebbd4" stroke-width="0.9"/>
<rect x="-3.70" y="-1.60" width="3.30" height="3.20" fill="#a8743c"/>
<rect x="0.40" y="-1.60" width="3.30" height="3.20" fill="#a8743c"/>
<circle cx="-2.05" cy="0" r="1.15" fill="#f1e6d2"/>
<circle cx="2.05" cy="0" r="1.15" fill="#f1e6d2"/>
</g>
<g transform="translate(257.20,317.40) rotate(90)">
<rect x="-6.30" y="-4.75" width="12.60" height="9.50" fill="none" stroke="#aebbd4" stroke-width="0.9"/>
<rect x="-5.20" y="-3.65" width="4.70" height="7.30" fill="#ba783a"/>
<rect x="0.50" y="-3.65" width="4.70" height="7.30" fill="#ba783a"/>
</g>
<g transform="translate(254.20,328.00) rotate(0)">
<rect x="-5.35" y="-2.90" width="10.70" height="5.80" fill="none" stroke="#aebbd4" stroke-width="0.9"/>
<rect x="-4.05" y="-1.80" width="3.65" height="3.60" fill="#a8743c"/>
<rect x="0.40" y="-1.80" width="3.65" height="3.60" fill="#a8743c"/>
<circle cx="-2.22" cy="0" r="1.30" fill="#f1e6d2"/>
<circle cx="2.23" cy="0" r="1.30" fill="#f1e6d2"/>
</g>
<g transform="translate(254.20,336.60) rotate(0)">
<rect x="-5.35" y="-2.90" width="10.70" height="5.80" fill="none" stroke="#aebbd4" stroke-width="0.9"/>
<rect x="-4.05" y="-1.80" width="3.65" height="3.60" fill="#a8743c"/>
<rect x="0.40" y="-1.80" width="3.65" height="3.60" fill="#a8743c"/>
<circle cx="-2.22" cy="0" r="1.30" fill="#f1e6d2"/>
<circle cx="2.23" cy="0" r="1.30" fill="#f1e6d2"/>
</g>
<g transform="translate(273.00,307.20) rotate(0)">
<rect x="-4.65" y="-2.70" width="9.30" height="5.40" fill="none" stroke="#aebbd4" stroke-width="0.9"/>
<rect x="-3.35" y="-1.60" width="2.95" height="3.20" fill="#a8743c"/>
<rect x="0.40" y="-1.60" width="2.95" height="3.20" fill="#a8743c"/>
<circle cx="-1.88" cy="0" r="1.06" fill="#f1e6d2"/>
<circle cx="1.88" cy="0" r="1.06" fill="#f1e6d2"/>
</g>
<g transform="translate(283.60,301.00) rotate(0)">
<rect x="-4.65" y="-2.25" width="9.30" height="4.50" fill="none" stroke="#aebbd4" stroke-width="0.9"/>
<rect x="-3.35" y="-1.15" width="2.95" height="2.30" fill="#a8743c"/>
<rect x="0.40" y="-1.15" width="2.95" height="2.30" fill="#a8743c"/>
<circle cx="-1.88" cy="0" r="0.83" fill="#f1e6d2"/>
<circle cx="1.88" cy="0" r="0.83" fill="#f1e6d2"/>
</g>
<g transform="translate(283.60,307.40) rotate(0)">
<rect x="-4.65" y="-2.25" width="9.30" height="4.50" fill="none" stroke="#aebbd4" stroke-width="0.9"/>
<rect x="-3.35" y="-1.15" width="2.95" height="2.30" fill="#a8743c"/>
<rect x="0.40" y="-1.15" width="2.95" height="2.30" fill="#a8743c"/>
<circle cx="-1.88" cy="0" r="0.83" fill="#f1e6d2"/>
<circle cx="1.88" cy="0" r="0.83" fill="#f1e6d2"/>
</g>
<rect x="274.5" y="316.2" width="14.8" height="15.4" fill="#8d8d8d" stroke="#a9b4c9" stroke-width="0.6"/>
<circle cx="271.0" cy="322.5" r="2.6" fill="#b3824e" stroke="#dcc49c" stroke-width="0.8"/>
<circle cx="271.0" cy="322.5" r="1.17" fill="#3a2a18"/>
<g transform="translate(271.80,331.50) rotate(90)">
<rect x="-4.30" y="-2.40" width="8.60" height="4.80" fill="none" stroke="#aebbd4" stroke-width="0.9"/>
<rect x="-3.00" y="-1.30" width="2.60" height="2.60" fill="#a8743c"/>
<rect x="0.40" y="-1.30" width="2.60" height="2.60" fill="#a8743c"/>
<circle cx="-1.70" cy="0" r="0.94" fill="#f1e6d2"/>
<circle cx="1.70" cy="0" r="0.94" fill="#f1e6d2"/>
</g>
<g transform="translate(294.20,314.00) rotate(90)">
<rect x="-7.00" y="-3.05" width="14.00" height="6.10" fill="none" stroke="#aebbd4" stroke-width="0.9"/>
<rect x="-5.80" y="-1.85" width="11.60" height="3.70" fill="#ba783a"/>
<rect x="-3.80" y="-1.85" width="7.60" height="3.70" fill="#ececec"/>
<rect x="-1.80" y="-1.85" width="3.60" height="3.70" fill="#6f6f6f"/>
</g>
<g transform="translate(303.30,314.60) rotate(90)">
<rect x="-8.10" y="-4.50" width="16.20" height="9.00" fill="none" stroke="#aebbd4" stroke-width="0.9"/>
<rect x="-6.90" y="-3.30" width="13.80" height="6.60" fill="#ba783a"/>
<rect x="-4.90" y="-3.30" width="9.80" height="6.60" fill="#ececec"/>
<rect x="-2.90" y="-3.30" width="5.80" height="6.60" fill="#6f6f6f"/>
</g>
<circle cx="299.1" cy="302.2" r="2.8" fill="#b3824e" stroke="#dcc49c" stroke-width="0.8"/>
<circle cx="299.1" cy="302.2" r="1.26" fill="#3a2a18"/>
<circle cx="311.0" cy="318.8" r="2.8" fill="#b3824e" stroke="#dcc49c" stroke-width="0.8"/>
<circle cx="311.0" cy="318.8" r="1.26" fill="#3a2a18"/>
<g transform="translate(300.40,332.60) rotate(90)">
<rect x="-6.95" y="-3.40" width="13.90" height="6.80" fill="none" stroke="#aebbd4" stroke-width="0.9"/>
<rect x="-5.75" y="-2.20" width="11.50" height="4.40" fill="#ba783a"/>
<rect x="-3.75" y="-2.20" width="7.50" height="4.40" fill="#ececec"/>
<rect x="-1.75" y="-2.20" width="3.50" height="4.40" fill="#6f6f6f"/>
</g>
<g transform="translate(308.90,333.60) rotate(90)">
<rect x="-8.60" y="-4.65" width="17.20" height="9.30" fill="none" stroke="#aebbd4" stroke-width="0.9"/>
<rect x="-7.40" y="-3.45" width="14.80" height="6.90" fill="#ba783a"/>
<rect x="-5.40" y="-3.45" width="10.80" height="6.90" fill="#ececec"/>
<rect x="-3.40" y="-3.45" width="6.80" height="6.90" fill="#6f6f6f"/>
</g>
<g transform="translate(293.00,332.40) rotate(90)">
<rect x="-4.60" y="-2.25" width="9.20" height="4.50" fill="none" stroke="#aebbd4" stroke-width="0.9"/>
<rect x="-3.30" y="-1.15" width="2.90" height="2.30" fill="#a8743c"/>
<rect x="0.40" y="-1.15" width="2.90" height="2.30" fill="#a8743c"/>
<circle cx="-1.85" cy="0" r="0.83" fill="#f1e6d2"/>
<circle cx="1.85" cy="0" r="0.83" fill="#f1e6d2"/>
</g>
<g transform="translate(282.80,335.90) rotate(0)">
<rect x="-4.80" y="-2.70" width="9.60" height="5.40" fill="none" stroke="#aebbd4" stroke-width="0.9"/>
<rect x="-3.50" y="-1.60" width="3.10" height="3.20" fill="#a8743c"/>
<rect x="0.40" y="-1.60" width="3.10" height="3.20" fill="#a8743c"/>
<circle cx="-1.95" cy="0" r="1.12" fill="#f1e6d2"/>
<circle cx="1.95" cy="0" r="1.12" fill="#f1e6d2"/>
</g>
<circle cx="287.0" cy="312.5" r="2.2" fill="#f4f6fa"/>
<rect x="315.9" y="336.1" width="21.5" height="5.5" fill="#ba783a"/>
<rect x="319.5" y="334.6" width="14.3" height="8.4" rx="1" fill="#303030" stroke="#8a96ae" stroke-width="0.6"/>
<rect x="315.9" y="345.8" width="21.5" height="5.5" fill="#ba783a"/>
<rect x="319.5" y="344.3" width="14.3" height="8.4" rx="1" fill="#303030" stroke="#8a96ae" stroke-width="0.6"/>
<path d="M365.1 301.2 H385.3 V320.4 H355.8 V310.5 H365.1 Z" fill="none" stroke="#aebbd4" stroke-width="0.9"/>
<circle cx="370.5" cy="306.0" r="3.9" fill="#b5804a"/>
<circle cx="370.5" cy="306.0" r="2.9" fill="#e3d2bf"/>
<circle cx="370.5" cy="306.0" r="1.0" fill="#b9bfd0"/>
<circle cx="379.9" cy="306.0" r="3.9" fill="#b5804a"/>
<circle cx="379.9" cy="306.0" r="2.9" fill="#e3d2bf"/>
<circle cx="379.9" cy="306.0" r="1.0" fill="#b9bfd0"/>
<circle cx="361.2" cy="315.6" r="3.9" fill="#b5804a"/>
<circle cx="361.2" cy="315.6" r="2.9" fill="#e3d2bf"/>
<circle cx="361.2" cy="315.6" r="1.0" fill="#b9bfd0"/>
<circle cx="370.5" cy="315.6" r="3.9" fill="#b5804a"/>
<circle cx="370.5" cy="315.6" r="2.9" fill="#e3d2bf"/>
<circle cx="370.5" cy="315.6" r="1.0" fill="#b9bfd0"/>
<rect x="376.2" y="311.9" width="7.4" height="7.4" fill="#b5804a"/>
<circle cx="379.9" cy="315.6" r="2.9" fill="#e3d2bf"/>
<circle cx="379.9" cy="315.6" r="1.0" fill="#b9bfd0"/>
<circle cx="387.6" cy="298.0" r="2.2" fill="#f4f6fa"/>
<circle cx="387.6" cy="323.1" r="2.2" fill="#f4f6fa"/>
<circle cx="435.7" cy="299.8" r="2.2" fill="#f4f6fa"/>
<circle cx="433.4" cy="308.2" r="4.3" fill="#b3824e" stroke="#dcc49c" stroke-width="0.8"/>
<circle cx="433.4" cy="308.2" r="1.94" fill="#3a2a18"/>
<g transform="translate(431.60,319.10) rotate(0)">
<rect x="-6.30" y="-4.00" width="12.60" height="8.00" fill="none" stroke="#aebbd4" stroke-width="0.9"/>
<rect x="-5.20" y="-2.90" width="4.70" height="5.80" fill="#ba783a"/>
<rect x="0.50" y="-2.90" width="4.70" height="5.80" fill="#ba783a"/>
</g>
<g transform="translate(431.60,328.80) rotate(0)">
<rect x="-6.30" y="-4.25" width="12.60" height="8.50" fill="none" stroke="#aebbd4" stroke-width="0.9"/>
<rect x="-5.20" y="-3.15" width="4.70" height="6.30" fill="#ba783a"/>
<rect x="0.50" y="-3.15" width="4.70" height="6.30" fill="#ba783a"/>
</g>
<g transform="translate(409.30,331.90) rotate(90)">
<rect x="-5.60" y="-2.85" width="11.20" height="5.70" fill="none" stroke="#aebbd4" stroke-width="0.9"/>
<rect x="-4.30" y="-1.75" width="3.90" height="3.50" fill="#a8743c"/>
<rect x="0.40" y="-1.75" width="3.90" height="3.50" fill="#a8743c"/>
<circle cx="-2.35" cy="0" r="1.26" fill="#f1e6d2"/>
<circle cx="2.35" cy="0" r="1.26" fill="#f1e6d2"/>
</g>
<g transform="translate(442.40,339.30) rotate(0)">
<rect x="-5.40" y="-2.60" width="10.80" height="5.20" fill="none" stroke="#aebbd4" stroke-width="0.9"/>
<rect x="-4.10" y="-1.50" width="3.70" height="3.00" fill="#a8743c"/>
<rect x="0.40" y="-1.50" width="3.70" height="3.00" fill="#a8743c"/>
<circle cx="-2.25" cy="0" r="1.08" fill="#f1e6d2"/>
<circle cx="2.25" cy="0" r="1.08" fill="#f1e6d2"/>
</g>
<g transform="translate(442.40,344.95) rotate(0)">
<rect x="-5.40" y="-2.60" width="10.80" height="5.20" fill="none" stroke="#aebbd4" stroke-width="0.9"/>
<rect x="-4.10" y="-1.50" width="3.70" height="3.00" fill="#a8743c"/>
<rect x="0.40" y="-1.50" width="3.70" height="3.00" fill="#a8743c"/>
<circle cx="-2.25" cy="0" r="1.08" fill="#f1e6d2"/>
<circle cx="2.25" cy="0" r="1.08" fill="#f1e6d2"/>
</g>
<g transform="translate(442.40,350.60) rotate(0)">
<rect x="-5.40" y="-2.60" width="10.80" height="5.20" fill="none" stroke="#aebbd4" stroke-width="0.9"/>
<rect x="-4.10" y="-1.50" width="3.70" height="3.00" fill="#a8743c"/>
<rect x="0.40" y="-1.50" width="3.70" height="3.00" fill="#a8743c"/>
<circle cx="-2.25" cy="0" r="1.08" fill="#f1e6d2"/>
<circle cx="2.25" cy="0" r="1.08" fill="#f1e6d2"/>
</g>
<g transform="translate(442.40,356.25) rotate(0)">
<rect x="-5.40" y="-2.60" width="10.80" height="5.20" fill="none" stroke="#aebbd4" stroke-width="0.9"/>
<rect x="-4.10" y="-1.50" width="3.70" height="3.00" fill="#a8743c"/>
<rect x="0.40" y="-1.50" width="3.70" height="3.00" fill="#a8743c"/>
<circle cx="-2.25" cy="0" r="1.08" fill="#f1e6d2"/>
<circle cx="2.25" cy="0" r="1.08" fill="#f1e6d2"/>
</g>
<g transform="translate(372.50,340.50) rotate(0)">
<rect x="-5.50" y="-2.80" width="11.00" height="5.60" fill="none" stroke="#aebbd4" stroke-width="0.9"/>
<rect x="-4.20" y="-1.70" width="3.80" height="3.40" fill="#a8743c"/>
<rect x="0.40" y="-1.70" width="3.80" height="3.40" fill="#a8743c"/>
<circle cx="-2.30" cy="0" r="1.22" fill="#f1e6d2"/>
<circle cx="2.30" cy="0" r="1.22" fill="#f1e6d2"/>
</g>
<g transform="translate(372.50,347.40) rotate(0)">
<rect x="-5.50" y="-2.80" width="11.00" height="5.60" fill="none" stroke="#aebbd4" stroke-width="0.9"/>
<rect x="-4.20" y="-1.70" width="3.80" height="3.40" fill="#a8743c"/>
<rect x="0.40" y="-1.70" width="3.80" height="3.40" fill="#a8743c"/>
<circle cx="-2.30" cy="0" r="1.22" fill="#f1e6d2"/>
<circle cx="2.30" cy="0" r="1.22" fill="#f1e6d2"/>
</g>
<circle cx="383.1" cy="343.8" r="2.2" fill="#f4f6fa"/>
<circle cx="358.0" cy="353.3" r="2.2" fill="#f4f6fa"/>
<circle cx="297.9" cy="366.4" r="2.2" fill="#f4f6fa"/>
<circle cx="281.7" cy="369.0" r="2.2" fill="#f4f6fa"/>
<rect x="391.2" y="338" width="32" height="8" fill="#5d4a4a" opacity="0.35"/>
<rect x="391.2" y="378.6" width="32" height="8" fill="#5d4a4a" opacity="0.35"/>
<rect x="382.2" y="346.8" width="8" height="32" fill="#5d4a4a" opacity="0.35"/>
<rect x="423.2" y="346.8" width="8" height="32" fill="#5d4a4a" opacity="0.35"/>
<rect x="391.60" y="338" width="1.3" height="8" fill="#9a6a45"/>
<rect x="391.60" y="378.6" width="1.3" height="8" fill="#9a6a45"/>
<rect x="382.2" y="347.20" width="8" height="1.3" fill="#9a6a45"/>
<rect x="423.2" y="347.20" width="8" height="1.3" fill="#9a6a45"/>
<rect x="393.63" y="338" width="1.3" height="8" fill="#9a6a45"/>
<rect x="393.63" y="378.6" width="1.3" height="8" fill="#9a6a45"/>
<rect x="382.2" y="349.23" width="8" height="1.3" fill="#9a6a45"/>
<rect x="423.2" y="349.23" width="8" height="1.3" fill="#9a6a45"/>
<rect x="395.66" y="338" width="1.3" height="8" fill="#9a6a45"/>
<rect x="395.66" y="378.6" width="1.3" height="8" fill="#9a6a45"/>
<rect x="382.2" y="351.26" width="8" height="1.3" fill="#9a6a45"/>
<rect x="423.2" y="351.26" width="8" height="1.3" fill="#9a6a45"/>
<rect x="397.69" y="338" width="1.3" height="8" fill="#9a6a45"/>
<rect x="397.69" y="378.6" width="1.3" height="8" fill="#9a6a45"/>
<rect x="382.2" y="353.29" width="8" height="1.3" fill="#9a6a45"/>
<rect x="423.2" y="353.29" width="8" height="1.3" fill="#9a6a45"/>
<rect x="399.72" y="338" width="1.3" height="8" fill="#9a6a45"/>
<rect x="399.72" y="378.6" width="1.3" height="8" fill="#9a6a45"/>
<rect x="382.2" y="355.32" width="8" height="1.3" fill="#9a6a45"/>
<rect x="423.2" y="355.32" width="8" height="1.3" fill="#9a6a45"/>
<rect x="401.75" y="338" width="1.3" height="8" fill="#9a6a45"/>
<rect x="401.75" y="378.6" width="1.3" height="8" fill="#9a6a45"/>
<rect x="382.2" y="357.35" width="8" height="1.3" fill="#9a6a45"/>
<rect x="423.2" y="357.35" width="8" height="1.3" fill="#9a6a45"/>
<rect x="403.78" y="338" width="1.3" height="8" fill="#9a6a45"/>
<rect x="403.78" y="378.6" width="1.3" height="8" fill="#9a6a45"/>
<rect x="382.2" y="359.38" width="8" height="1.3" fill="#9a6a45"/>
<rect x="423.2" y="359.38" width="8" height="1.3" fill="#9a6a45"/>
<rect x="405.81" y="338" width="1.3" height="8" fill="#9a6a45"/>
<rect x="405.81" y="378.6" width="1.3" height="8" fill="#9a6a45"/>
<rect x="382.2" y="361.41" width="8" height="1.3" fill="#9a6a45"/>
<rect x="423.2" y="361.41" width="8" height="1.3" fill="#9a6a45"/>
<rect x="407.84" y="338" width="1.3" height="8" fill="#9a6a45"/>
<rect x="407.84" y="378.6" width="1.3" height="8" fill="#9a6a45"/>
<rect x="382.2" y="363.44" width="8" height="1.3" fill="#9a6a45"/>
<rect x="423.2" y="363.44" width="8" height="1.3" fill="#9a6a45"/>
<rect x="409.87" y="338" width="1.3" height="8" fill="#9a6a45"/>
<rect x="409.87" y="378.6" width="1.3" height="8" fill="#9a6a45"/>
<rect x="382.2" y="365.47" width="8" height="1.3" fill="#9a6a45"/>
<rect x="423.2" y="365.47" width="8" height="1.3" fill="#9a6a45"/>
<rect x="411.90" y="338" width="1.3" height="8" fill="#9a6a45"/>
<rect x="411.90" y="378.6" width="1.3" height="8" fill="#9a6a45"/>
<rect x="382.2" y="367.50" width="8" height="1.3" fill="#9a6a45"/>
<rect x="423.2" y="367.50" width="8" height="1.3" fill="#9a6a45"/>
<rect x="413.93" y="338" width="1.3" height="8" fill="#9a6a45"/>
<rect x="413.93" y="378.6" width="1.3" height="8" fill="#9a6a45"/>
<rect x="382.2" y="369.53" width="8" height="1.3" fill="#9a6a45"/>
<rect x="423.2" y="369.53" width="8" height="1.3" fill="#9a6a45"/>
<rect x="415.96" y="338" width="1.3" height="8" fill="#9a6a45"/>
<rect x="415.96" y="378.6" width="1.3" height="8" fill="#9a6a45"/>
<rect x="382.2" y="371.56" width="8" height="1.3" fill="#9a6a45"/>
<rect x="423.2" y="371.56" width="8" height="1.3" fill="#9a6a45"/>
<rect x="417.99" y="338" width="1.3" height="8" fill="#9a6a45"/>
<rect x="417.99" y="378.6" width="1.3" height="8" fill="#9a6a45"/>
<rect x="382.2" y="373.59" width="8" height="1.3" fill="#9a6a45"/>
<rect x="423.2" y="373.59" width="8" height="1.3" fill="#9a6a45"/>
<rect x="420.02" y="338" width="1.3" height="8" fill="#9a6a45"/>
<rect x="420.02" y="378.6" width="1.3" height="8" fill="#9a6a45"/>
<rect x="382.2" y="375.62" width="8" height="1.3" fill="#9a6a45"/>
<rect x="423.2" y="375.62" width="8" height="1.3" fill="#9a6a45"/>
<rect x="422.05" y="338" width="1.3" height="8" fill="#9a6a45"/>
<rect x="422.05" y="378.6" width="1.3" height="8" fill="#9a6a45"/>
<rect x="382.2" y="377.65" width="8" height="1.3" fill="#9a6a45"/>
<rect x="423.2" y="377.65" width="8" height="1.3" fill="#9a6a45"/>
<rect x="389.8" y="345.3" width="33.9" height="33.9" rx="2" fill="#333"/>
<rect x="360.2" y="355.2" width="15.2" height="17.2" fill="none" stroke="#aebbd4" stroke-width="0.9"/>
<rect x="362.3" y="357.2" width="11.1" height="13.2" fill="#e5b53a"/><rect x="364.5" y="359.5" width="6.7" height="8.6" fill="#f0c64c"/>
<g transform="translate(378.80,359.50) rotate(90)">
<rect x="-4.35" y="-2.75" width="8.70" height="5.50" fill="none" stroke="#aebbd4" stroke-width="0.9"/>
<rect x="-3.05" y="-1.65" width="2.65" height="3.30" fill="#a8743c"/>
<rect x="0.40" y="-1.65" width="2.65" height="3.30" fill="#a8743c"/>
<circle cx="-1.72" cy="0" r="0.95" fill="#f1e6d2"/>
<circle cx="1.73" cy="0" r="0.95" fill="#f1e6d2"/>
</g>
<g transform="translate(378.80,368.60) rotate(90)">
<rect x="-4.75" y="-2.75" width="9.50" height="5.50" fill="none" stroke="#aebbd4" stroke-width="0.9"/>
<rect x="-3.45" y="-1.65" width="3.05" height="3.30" fill="#a8743c"/>
<rect x="0.40" y="-1.65" width="3.05" height="3.30" fill="#a8743c"/>
<circle cx="-1.93" cy="0" r="1.10" fill="#f1e6d2"/>
<circle cx="1.93" cy="0" r="1.10" fill="#f1e6d2"/>
</g>
<g transform="translate(376.40,378.70) rotate(0)">
<rect x="-5.05" y="-2.75" width="10.10" height="5.50" fill="none" stroke="#aebbd4" stroke-width="0.9"/>
<rect x="-3.75" y="-1.65" width="3.35" height="3.30" fill="#a8743c"/>
<rect x="0.40" y="-1.65" width="3.35" height="3.30" fill="#a8743c"/>
<circle cx="-2.08" cy="0" r="1.19" fill="#f1e6d2"/>
<circle cx="2.08" cy="0" r="1.19" fill="#f1e6d2"/>
</g>
<g transform="translate(376.40,384.80) rotate(0)">
<rect x="-5.05" y="-2.75" width="10.10" height="5.50" fill="none" stroke="#aebbd4" stroke-width="0.9"/>
<rect x="-3.75" y="-1.65" width="3.35" height="3.30" fill="#a8743c"/>
<rect x="0.40" y="-1.65" width="3.35" height="3.30" fill="#a8743c"/>
<circle cx="-2.08" cy="0" r="1.19" fill="#f1e6d2"/>
<circle cx="2.08" cy="0" r="1.19" fill="#f1e6d2"/>
</g>
<g transform="translate(353.10,388.90) rotate(0)">
<rect x="-6.10" y="-2.70" width="12.20" height="5.40" fill="none" stroke="#aebbd4" stroke-width="0.9"/>
<rect x="-4.90" y="-1.50" width="9.80" height="3.00" fill="#ba783a"/>
<rect x="-2.90" y="-1.50" width="5.80" height="3.00" fill="#ececec"/>
<rect x="-0.90" y="-1.50" width="1.80" height="3.00" fill="#6f6f6f"/>
</g>
<rect x="369.4" y="388.6" width="5" height="6.1" fill="#555" stroke="#aebbd4" stroke-width="0.7"/>
<g transform="translate(388.20,392.10) rotate(0)">
<rect x="-4.75" y="-2.55" width="9.50" height="5.10" fill="none" stroke="#aebbd4" stroke-width="0.9"/>
<rect x="-3.45" y="-1.45" width="3.05" height="2.90" fill="#a8743c"/>
<rect x="0.40" y="-1.45" width="3.05" height="2.90" fill="#a8743c"/>
<circle cx="-1.93" cy="0" r="1.04" fill="#f1e6d2"/>
<circle cx="1.93" cy="0" r="1.04" fill="#f1e6d2"/>
</g>
<g transform="translate(388.20,397.50) rotate(0)">
<rect x="-4.75" y="-2.55" width="9.50" height="5.10" fill="none" stroke="#aebbd4" stroke-width="0.9"/>
<rect x="-3.45" y="-1.45" width="3.05" height="2.90" fill="#a8743c"/>
<rect x="0.40" y="-1.45" width="3.05" height="2.90" fill="#a8743c"/>
<circle cx="-1.93" cy="0" r="1.04" fill="#f1e6d2"/>
<circle cx="1.93" cy="0" r="1.04" fill="#f1e6d2"/>
</g>
<g transform="translate(402.40,392.60) rotate(90)">
<rect x="-5.05" y="-2.75" width="10.10" height="5.50" fill="none" stroke="#aebbd4" stroke-width="0.9"/>
<rect x="-3.75" y="-1.65" width="3.35" height="3.30" fill="#a8743c"/>
<rect x="0.40" y="-1.65" width="3.35" height="3.30" fill="#a8743c"/>
<circle cx="-2.08" cy="0" r="1.19" fill="#f1e6d2"/>
<circle cx="2.08" cy="0" r="1.19" fill="#f1e6d2"/>
</g>
<g transform="translate(412.00,398.20) rotate(90)">
<rect x="-4.60" y="-2.70" width="9.20" height="5.40" fill="none" stroke="#aebbd4" stroke-width="0.9"/>
<rect x="-3.30" y="-1.60" width="2.90" height="3.20" fill="#a8743c"/>
<rect x="0.40" y="-1.60" width="2.90" height="3.20" fill="#a8743c"/>
<circle cx="-1.85" cy="0" r="1.04" fill="#f1e6d2"/>
<circle cx="1.85" cy="0" r="1.04" fill="#f1e6d2"/>
</g>
<g transform="translate(418.00,398.20) rotate(90)">
<rect x="-4.60" y="-2.70" width="9.20" height="5.40" fill="none" stroke="#aebbd4" stroke-width="0.9"/>
<rect x="-3.30" y="-1.60" width="2.90" height="3.20" fill="#a8743c"/>
<rect x="0.40" y="-1.60" width="2.90" height="3.20" fill="#a8743c"/>
<circle cx="-1.85" cy="0" r="1.04" fill="#f1e6d2"/>
<circle cx="1.85" cy="0" r="1.04" fill="#f1e6d2"/>
</g>
<g transform="translate(424.00,398.20) rotate(90)">
<rect x="-4.60" y="-2.70" width="9.20" height="5.40" fill="none" stroke="#aebbd4" stroke-width="0.9"/>
<rect x="-3.30" y="-1.60" width="2.90" height="3.20" fill="#a8743c"/>
<rect x="0.40" y="-1.60" width="2.90" height="3.20" fill="#a8743c"/>
<circle cx="-1.85" cy="0" r="1.04" fill="#f1e6d2"/>
<circle cx="1.85" cy="0" r="1.04" fill="#f1e6d2"/>
</g>
<rect x="412.9" y="407.8" width="14.1" height="5.5" fill="none" stroke="#aebbd4" stroke-width="0.8"/>
<rect x="413.8" y="408.6" width="12.3" height="3.9" fill="#ba783a"/><rect x="416.5" y="408.6" width="6.5" height="3.9" fill="#39e05a"/>
<g transform="translate(432.20,410.50) rotate(0)">
<rect x="-4.75" y="-2.75" width="9.50" height="5.50" fill="none" stroke="#aebbd4" stroke-width="0.9"/>
<rect x="-3.45" y="-1.65" width="3.05" height="3.30" fill="#a8743c"/>
<rect x="0.40" y="-1.65" width="3.05" height="3.30" fill="#a8743c"/>
<circle cx="-1.93" cy="0" r="1.10" fill="#f1e6d2"/>
<circle cx="1.93" cy="0" r="1.10" fill="#f1e6d2"/>
</g>
<text transform="translate(406.8,406.4) rotate(90)" font-size="4.6" fill="#d5dceb">POWER</text>
<text transform="translate(431.8,372.8) rotate(90)" font-size="4.6" fill="#d5dceb">LED3</text>
<rect x="437.2" y="376.4" width="14.1" height="6.1" fill="none" stroke="#aebbd4" stroke-width="0.8"/>
<rect x="438.1" y="377.2" width="12.3" height="4.5" fill="#ba783a"/><rect x="441" y="377.2" width="6.5" height="4.5" fill="#f5e04a"/>
<g transform="translate(442.20,386.20) rotate(0)">
<rect x="-5.05" y="-2.75" width="10.10" height="5.50" fill="none" stroke="#aebbd4" stroke-width="0.9"/>
<rect x="-3.75" y="-1.65" width="3.35" height="3.30" fill="#a8743c"/>
<rect x="0.40" y="-1.65" width="3.35" height="3.30" fill="#a8743c"/>
<circle cx="-2.08" cy="0" r="1.19" fill="#f1e6d2"/>
<circle cx="2.08" cy="0" r="1.19" fill="#f1e6d2"/>
</g>
<g transform="translate(436.60,363.20) rotate(0)">
<rect x="-4.60" y="-3.05" width="9.20" height="6.10" fill="none" stroke="#aebbd4" stroke-width="0.9"/>
<rect x="-3.30" y="-1.95" width="2.90" height="3.90" fill="#a8743c"/>
<rect x="0.40" y="-1.95" width="2.90" height="3.90" fill="#a8743c"/>
<circle cx="-1.85" cy="0" r="1.04" fill="#f1e6d2"/>
<circle cx="1.85" cy="0" r="1.04" fill="#f1e6d2"/>
</g>
<g transform="translate(442.20,370.70) rotate(0)">
<rect x="-5.05" y="-2.70" width="10.10" height="5.40" fill="none" stroke="#aebbd4" stroke-width="0.9"/>
<rect x="-3.75" y="-1.60" width="3.35" height="3.20" fill="#a8743c"/>
<rect x="0.40" y="-1.60" width="3.35" height="3.20" fill="#a8743c"/>
<circle cx="-2.08" cy="0" r="1.15" fill="#f1e6d2"/>
<circle cx="2.08" cy="0" r="1.15" fill="#f1e6d2"/>
</g>
<circle cx="448.7" cy="406.4" r="1.8" fill="#1a2233"/>
<circle cx="357.8" cy="353.2" r="2.2" fill="#f4f6fa"/>
<circle cx="365.3" cy="385.5" r="2.2" fill="#f4f6fa"/>
<circle cx="345.0" cy="394.2" r="2.2" fill="#f4f6fa"/>
<circle cx="383.0" cy="343.6" r="2.2" fill="#f4f6fa"/>
<rect x="212.0" y="368.2" width="5.3" height="8" fill="#ba783a" stroke="#e2e2e2" stroke-width="0.8"/>
<rect x="212.0" y="406.2" width="5.3" height="8" fill="#ba783a" stroke="#e2e2e2" stroke-width="0.8"/>
<rect x="233.5" y="368.2" width="5.3" height="8" fill="#ba783a" stroke="#e2e2e2" stroke-width="0.8"/>
<rect x="233.5" y="406.2" width="5.3" height="8" fill="#ba783a" stroke="#e2e2e2" stroke-width="0.8"/>
<rect x="210.2" y="375.8" width="30" height="30.4" fill="#dadada" stroke="#bbbbbb" stroke-width="0.8"/>
<circle cx="224.79999999999998" cy="390.8" r="8.4" fill="#8cc3ea" stroke="#6b9cc4" stroke-width="0.7"/>
<circle cx="217.1" cy="382.9" r="1.6" fill="#111"/>
<circle cx="233.0" cy="382.9" r="1.6" fill="#111"/>
<circle cx="217.1" cy="398.8" r="1.6" fill="#111"/>
<circle cx="233.0" cy="398.8" r="1.6" fill="#111"/>
<rect x="250.8" y="368.2" width="5.3" height="8" fill="#ba783a" stroke="#e2e2e2" stroke-width="0.8"/>
<rect x="250.8" y="406.2" width="5.3" height="8" fill="#ba783a" stroke="#e2e2e2" stroke-width="0.8"/>
<rect x="272.3" y="368.2" width="5.3" height="8" fill="#ba783a" stroke="#e2e2e2" stroke-width="0.8"/>
<rect x="272.3" y="406.2" width="5.3" height="8" fill="#ba783a" stroke="#e2e2e2" stroke-width="0.8"/>
<rect x="249.0" y="375.8" width="30" height="30.4" fill="#dadada" stroke="#bbbbbb" stroke-width="0.8"/>
<circle cx="263.6" cy="390.8" r="8.4" fill="#8cc3ea" stroke="#6b9cc4" stroke-width="0.7"/>
<circle cx="255.9" cy="382.9" r="1.6" fill="#111"/>
<circle cx="271.8" cy="382.9" r="1.6" fill="#111"/>
<circle cx="255.9" cy="398.8" r="1.6" fill="#111"/>
<circle cx="271.8" cy="398.8" r="1.6" fill="#111"/>
<circle cx="242.9" cy="368.8" r="2.2" fill="#f4f6fa"/>
<circle cx="281.5" cy="368.8" r="2.2" fill="#f4f6fa"/>
<circle cx="298.3" cy="367.0" r="2.2" fill="#f4f6fa"/>
<circle cx="301.0" cy="414.1" r="2.2" fill="#f4f6fa"/>
<rect x="292.1" y="370" width="13.4" height="25.6" fill="none" stroke="#aebbd4" stroke-width="0.9"/>
<line x1="292.1" y1="382.5" x2="305.5" y2="382.5" stroke="#aebbd4" stroke-width="0.9"/>
<circle cx="298.8" cy="376.5" r="3.9" fill="#b5804a"/>
<circle cx="298.8" cy="376.5" r="2.9" fill="#e3d2bf"/>
<circle cx="298.8" cy="376.5" r="1.0" fill="#b9bfd0"/>
<circle cx="298.8" cy="388.5" r="3.9" fill="#b5804a"/>
<circle cx="298.8" cy="388.5" r="2.9" fill="#e3d2bf"/>
<circle cx="298.8" cy="388.5" r="1.0" fill="#b9bfd0"/>
<g transform="translate(286.70,376.40) rotate(0)">
<rect x="-4.70" y="-2.40" width="9.40" height="4.80" fill="none" stroke="#aebbd4" stroke-width="0.9"/>
<rect x="-3.40" y="-1.30" width="3.00" height="2.60" fill="#a8743c"/>
<rect x="0.40" y="-1.30" width="3.00" height="2.60" fill="#a8743c"/>
<circle cx="-1.90" cy="0" r="0.94" fill="#f1e6d2"/>
<circle cx="1.90" cy="0" r="0.94" fill="#f1e6d2"/>
</g>
<g transform="translate(286.70,388.50) rotate(0)">
<rect x="-4.70" y="-2.65" width="9.40" height="5.30" fill="none" stroke="#aebbd4" stroke-width="0.9"/>
<rect x="-3.40" y="-1.55" width="3.00" height="3.10" fill="#a8743c"/>
<rect x="0.40" y="-1.55" width="3.00" height="3.10" fill="#a8743c"/>
<circle cx="-1.90" cy="0" r="1.08" fill="#f1e6d2"/>
<circle cx="1.90" cy="0" r="1.08" fill="#f1e6d2"/>
</g>
<circle cx="324.4" cy="385.0" r="2.8" fill="#b3824e" stroke="#dcc49c" stroke-width="0.8"/>
<circle cx="324.4" cy="385.0" r="1.26" fill="#3a2a18"/>
<rect x="304.1" y="407" width="25.6" height="13" fill="none" stroke="#aebbd4" stroke-width="0.9"/>
<line x1="316.9" y1="407" x2="316.9" y2="420" stroke="#aebbd4" stroke-width="0.9"/>
<circle cx="310.6" cy="413.4" r="3.9" fill="#b5804a"/>
<circle cx="310.6" cy="413.4" r="2.9" fill="#e3d2bf"/>
<circle cx="310.6" cy="413.4" r="1.0" fill="#b9bfd0"/>
<circle cx="323.0" cy="413.4" r="3.9" fill="#b5804a"/>
<circle cx="323.0" cy="413.4" r="2.9" fill="#e3d2bf"/>
<circle cx="323.0" cy="413.4" r="1.0" fill="#b9bfd0"/>
<rect x="339.6" y="409.2" width="5.5" height="8.4" rx="2" fill="#c0803a"/>
<rect x="379.6" y="409.2" width="5.5" height="8.4" rx="2" fill="#c0803a"/>
<rect x="349.2" y="396.3" width="4.6" height="4" rx="1.5" fill="#c0803a"/>
<rect x="355.5" y="396.3" width="3" height="4" rx="1.5" fill="#c0803a"/>
<rect x="359.6" y="396.3" width="3" height="4" rx="1.5" fill="#c0803a"/>
<rect x="363.7" y="396.3" width="3" height="4" rx="1.5" fill="#c0803a"/>
<rect x="371.6" y="396.3" width="4.6" height="4" rx="1.5" fill="#c0803a"/>
<rect x="344.6" y="399.2" width="35.6" height="26.4" fill="#fbfbfb" stroke="#c9c9c9" stroke-width="0.7"/>
<rect x="347.4" y="424.6" width="29.8" height="2.6" fill="#f4f4f4" stroke="#a9a9a9" stroke-width="0.6"/>
<rect x="350" y="404.6" width="3.6" height="0.9" fill="#777"/><rect x="371.5" y="404.6" width="3.6" height="0.9" fill="#777"/>
<rect x="349.6" y="421.2" width="3" height="0.9" fill="#777"/><rect x="372" y="421.2" width="3" height="0.9" fill="#777"/>
<path d="M349.4 416.5 L350.6 418.2 M375.4 416.5 L374.2 418.2" stroke="#555" stroke-width="0.9"/>
</svg>
<div class="ln" style="left:120.0px;top:140.5px;width:92.0px"></div>
<div class="ln" style="left:69.2px;top:152.8px;width:142.8px"></div>
<div class="ln" style="left:69.2px;top:165.1px;width:142.8px"></div>
<div class="ln" style="left:120.0px;top:177.4px;width:92.0px"></div>
<div class="ln" style="left:120.0px;top:189.7px;width:92.0px"></div>
<div class="ln" style="left:69.2px;top:202.0px;width:142.8px"></div>
<div class="ln" style="left:69.2px;top:214.3px;width:142.8px"></div>
<div class="ln" style="left:69.2px;top:226.6px;width:142.8px"></div>
<div class="ln" style="left:17.5px;top:250.6px;width:194.5px"></div>
<div class="ln" style="left:17.5px;top:262.7px;width:194.5px"></div>
<div class="ln" style="left:17.5px;top:274.9px;width:194.5px"></div>
<div class="ln" style="left:17.5px;top:287.1px;width:194.5px"></div>
<div class="ln" style="left:69.2px;top:299.4px;width:142.8px"></div>
<div class="ln" style="left:69.2px;top:311.6px;width:142.8px"></div>
<div class="ln" style="left:447.0px;top:100.5px;width:391.8px"></div>
<div class="ln" style="left:447.0px;top:112.9px;width:391.8px"></div>
<div class="ln" style="left:447.0px;top:125.2px;width:144.8px"></div>
<div class="ln" style="left:447.0px;top:137.4px;width:144.8px"></div>
<div class="ln" style="left:447.0px;top:149.5px;width:245.0px"></div>
<div class="ln" style="left:447.0px;top:162.2px;width:393.3px"></div>
<div class="ln" style="left:447.0px;top:174.4px;width:344.8px"></div>
<div class="ln" style="left:447.0px;top:186.5px;width:344.8px"></div>
<div class="ln" style="left:447.0px;top:198.6px;width:194.9px"></div>
<div class="ln" style="left:447.0px;top:210.7px;width:194.9px"></div>
<div class="ln" style="left:447.0px;top:229.9px;width:194.9px"></div>
<div class="ln" style="left:447.0px;top:241.9px;width:144.8px"></div>
<div class="ln" style="left:447.0px;top:254.3px;width:245.0px"></div>
<div class="ln" style="left:447.0px;top:266.5px;width:144.8px"></div>
<div class="ln" style="left:447.0px;top:278.7px;width:245.0px"></div>
<div class="ln" style="left:447.0px;top:290.7px;width:245.0px"></div>
<div class="ln" style="left:447.0px;top:302.8px;width:343.3px"></div>
<div class="ln" style="left:447.0px;top:314.9px;width:343.3px"></div>
<div class="b" style="left:118.0px;top:135.6px;width:39.0px;background:#ffffff;border-color:#8a8a8a;color:#222;font-size:9.1px;padding-left:5px"><span class="t">NC</span></div>
<div class="b" style="left:168.2px;top:135.6px;width:18.5px;background:#767171;border-color:#575353;color:#fff;font-size:9.1px;padding-left:5px"><span class="t">14</span></div>
<div class="b" style="left:67.2px;top:147.9px;width:39.3px;background:#b02428;border-color:#851a1e;color:#fff;font-size:9.1px;padding-left:5px"><span class="t">V<sub>CC</sub></span></div>
<div class="b" style="left:118.0px;top:147.9px;width:39.0px;background:#b02428;border-color:#851a1e;color:#fff;font-size:9.1px;padding-left:5px"><span class="t">IOREF</span></div>
<div class="b" style="left:168.2px;top:147.9px;width:18.5px;background:#767171;border-color:#575353;color:#fff;font-size:9.1px;padding-left:5px"><span class="t">13</span></div>
<div class="b" style="left:67.2px;top:160.2px;width:39.3px;background:#302898;border-color:#201a6e;color:#fff;font-size:9.1px;padding-left:5px"><span class="t">P208</span></div>
<div class="b" style="left:118.0px;top:160.2px;width:39.0px;background:#d8b22c;border-color:#a8891e;color:#222;font-size:9.1px;padding-left:5px"><span class="t">RESET</span></div>
<div class="b" style="left:168.2px;top:160.2px;width:18.5px;background:#767171;border-color:#575353;color:#fff;font-size:9.1px;padding-left:5px"><span class="t">12</span></div>
<div class="b" style="left:118.0px;top:172.5px;width:39.0px;background:#b02428;border-color:#851a1e;color:#fff;font-size:9.1px;padding-left:5px"><span class="t">3V3</span></div>
<div class="b" style="left:168.2px;top:172.5px;width:18.5px;background:#767171;border-color:#575353;color:#fff;font-size:9.1px;padding-left:5px"><span class="t">11</span></div>
<div class="b" style="left:118.0px;top:184.8px;width:39.0px;background:#b02428;border-color:#851a1e;color:#fff;font-size:9.1px;padding-left:5px"><span class="t">5V</span></div>
<div class="b" style="left:168.2px;top:184.8px;width:18.5px;background:#767171;border-color:#575353;color:#fff;font-size:9.1px;padding-left:5px"><span class="t">10</span></div>
<div class="b" style="left:67.2px;top:197.1px;width:39.3px;background:#050505;border-color:#000;color:#fff;font-size:9.1px;padding-left:5px"><span class="t">GND</span></div>
<div class="b" style="left:118.0px;top:197.1px;width:39.0px;background:#050505;border-color:#000;color:#fff;font-size:9.1px;padding-left:5px"><span class="t">GND</span></div>
<div class="b" style="left:168.2px;top:197.1px;width:18.5px;background:#767171;border-color:#575353;color:#fff;font-size:9.1px;padding-left:5px"><span class="t">9</span></div>
<div class="b" style="left:67.2px;top:209.4px;width:39.3px;background:#050505;border-color:#000;color:#fff;font-size:9.1px;padding-left:5px"><span class="t">GND</span></div>
<div class="b" style="left:118.0px;top:209.4px;width:39.0px;background:#050505;border-color:#000;color:#fff;font-size:9.1px;padding-left:5px"><span class="t">GND</span></div>
<div class="b" style="left:168.2px;top:209.4px;width:18.5px;background:#767171;border-color:#575353;color:#fff;font-size:9.1px;padding-left:5px"><span class="t">8</span></div>
<div class="b" style="left:67.2px;top:221.7px;width:39.3px;background:#ffffff;border-color:#8a8a8a;color:#222;font-size:9.1px;padding-left:5px"><span class="t">NC</span></div>
<div class="b" style="left:118.0px;top:221.7px;width:39.0px;background:#b02428;border-color:#851a1e;color:#fff;font-size:9.1px;padding-left:5px"><span class="t">VIN</span></div>
<div class="b" style="left:168.2px;top:221.7px;width:18.5px;background:#767171;border-color:#575353;color:#fff;font-size:9.1px;padding-left:5px"><span class="t">7</span></div>
<div class="b" style="left:15.5px;top:245.7px;width:39.0px;background:#ffffff;border-color:#8a8a8a;color:#222;font-size:9.1px;padding-left:5px"><span class="t">IRQ6-DS</span></div>
<div class="b" style="left:67.2px;top:245.7px;width:39.3px;background:#302898;border-color:#201a6e;color:#fff;font-size:9.1px;padding-left:5px"><span class="t">AN000</span></div>
<div class="b" style="left:118.0px;top:245.7px;width:39.0px;background:#73a84b;border-color:#538037;color:#fff;font-size:9.1px;padding-left:5px"><span class="t">A0</span></div>
<div class="b" style="left:168.2px;top:245.7px;width:18.5px;background:#767171;border-color:#575353;color:#fff;font-size:9.1px;padding-left:5px"><span class="t">6</span></div>
<div class="b" style="left:15.5px;top:257.8px;width:39.0px;background:#ffffff;border-color:#8a8a8a;color:#222;font-size:9.1px;padding-left:5px"><span class="t">IRQ7-DS</span></div>
<div class="b" style="left:67.2px;top:257.8px;width:39.3px;background:#302898;border-color:#201a6e;color:#fff;font-size:9.1px;padding-left:5px"><span class="t">AN001</span></div>
<div class="b" style="left:118.0px;top:257.8px;width:39.0px;background:#73a84b;border-color:#538037;color:#fff;font-size:9.1px;padding-left:5px"><span class="t">A1</span></div>
<div class="b" style="left:168.2px;top:257.8px;width:18.5px;background:#767171;border-color:#575353;color:#fff;font-size:9.1px;padding-left:5px"><span class="t">5</span></div>
<div class="b" style="left:15.5px;top:270.0px;width:39.0px;background:#ffffff;border-color:#8a8a8a;color:#222;font-size:9.1px;padding-left:5px"><span class="t">IRQ8-DS</span></div>
<div class="b" style="left:67.2px;top:270.0px;width:39.3px;background:#302898;border-color:#201a6e;color:#fff;font-size:9.1px;padding-left:5px"><span class="t">AN002</span></div>
<div class="b" style="left:118.0px;top:270.0px;width:39.0px;background:#73a84b;border-color:#538037;color:#fff;font-size:9.1px;padding-left:5px"><span class="t">A2</span></div>
<div class="b" style="left:168.2px;top:270.0px;width:18.5px;background:#767171;border-color:#575353;color:#fff;font-size:9.1px;padding-left:5px"><span class="t">4</span></div>
<div class="b" style="left:15.5px;top:282.2px;width:39.0px;background:#ffffff;border-color:#8a8a8a;color:#222;font-size:9.1px;padding-left:5px"><span class="t">IRQ9-DS</span></div>
<div class="b" style="left:67.2px;top:282.2px;width:39.3px;background:#302898;border-color:#201a6e;color:#fff;font-size:9.1px;padding-left:5px"><span class="t">AN004</span></div>
<div class="b" style="left:118.0px;top:282.2px;width:39.0px;background:#73a84b;border-color:#538037;color:#fff;font-size:9.1px;padding-left:5px"><span class="t">A3</span></div>
<div class="b" style="left:168.2px;top:282.2px;width:18.5px;background:#767171;border-color:#575353;color:#fff;font-size:9.1px;padding-left:5px"><span class="t">3</span></div>
<div class="b" style="left:67.2px;top:294.5px;width:39.3px;background:#302898;border-color:#201a6e;color:#fff;font-size:9.1px;padding-left:5px"><span class="t">AN007</span></div>
<div class="b" style="left:118.0px;top:294.5px;width:39.0px;background:#73a84b;border-color:#538037;color:#fff;font-size:9.1px;padding-left:5px"><span class="t">A4</span></div>
<div class="b" style="left:168.2px;top:294.5px;width:18.5px;background:#767171;border-color:#575353;color:#fff;font-size:9.1px;padding-left:5px"><span class="t">2</span></div>
<div class="b" style="left:67.2px;top:306.7px;width:39.3px;background:#302898;border-color:#201a6e;color:#fff;font-size:9.1px;padding-left:5px"><span class="t">AN011</span></div>
<div class="b" style="left:118.0px;top:306.7px;width:39.0px;background:#73a84b;border-color:#538037;color:#fff;font-size:9.1px;padding-left:5px"><span class="t">A5</span></div>
<div class="b" style="left:168.2px;top:306.7px;width:18.5px;background:#767171;border-color:#575353;color:#fff;font-size:9.1px;padding-left:5px"><span class="t">1</span></div>
<div class="b" style="left:469.0px;top:95.6px;width:18.3px;background:#767171;border-color:#575353;color:#fff;font-size:9.1px;padding-left:5px"><span class="t">32</span></div>
<div class="b" style="left:497.9px;top:95.6px;width:38.7px;background:#69a8b1;border-color:#4c8891;color:#f4ffff;font-size:9.1px;padding-left:5px"><span class="t">D15</span></div>
<div class="b" style="left:547.7px;top:95.6px;width:39.1px;background:#302898;border-color:#201a6e;color:#fff;font-size:9.1px;padding-left:5px"><span class="t">P100</span></div>
<div class="b" style="left:597.8px;top:95.6px;width:44.1px;background:#3e6c8b;border-color:#2b5068;color:#fff;font-size:7.9px;padding-left:0px"><span class="t">GTIOC5B</span></div>
<div class="b" style="left:648.2px;top:95.6px;width:43.8px;background:#695e98;border-color:#4b4274;color:#fff;font-size:9.1px;padding-left:0px"><span class="t">I3C_SCL</span></div>
<div class="b" style="left:697.5px;top:95.6px;width:43.7px;background:#695e98;border-color:#4b4274;color:#fff;font-size:9.1px;padding-left:0px"><span class="t">RxD0</span></div>
<div class="b" style="left:746.9px;top:95.6px;width:43.4px;background:#695e98;border-color:#4b4274;color:#fff;font-size:9.1px;padding-left:0px"><span class="t">MISO0</span></div>
<div class="b" style="left:795.0px;top:95.6px;width:43.8px;background:#ffffff;border-color:#8a8a8a;color:#222;font-size:9.1px;padding-left:0px"><span class="t">IRQ2</span></div>
<div class="b" style="left:469.0px;top:108.0px;width:18.3px;background:#767171;border-color:#575353;color:#fff;font-size:9.1px;padding-left:5px"><span class="t">31</span></div>
<div class="b" style="left:497.9px;top:108.0px;width:38.7px;background:#69a8b1;border-color:#4c8891;color:#f4ffff;font-size:9.1px;padding-left:5px"><span class="t">D14</span></div>
<div class="b" style="left:547.7px;top:108.0px;width:39.1px;background:#302898;border-color:#201a6e;color:#fff;font-size:9.1px;padding-left:5px"><span class="t">P101</span></div>
<div class="b" style="left:597.8px;top:108.0px;width:44.1px;background:#3e6c8b;border-color:#2b5068;color:#fff;font-size:7.9px;padding-left:0px"><span class="t">GTIOC5A</span></div>
<div class="b" style="left:648.2px;top:108.0px;width:43.8px;background:#695e98;border-color:#4b4274;color:#fff;font-size:9.1px;padding-left:0px"><span class="t">I3C_SDA</span></div>
<div class="b" style="left:697.5px;top:108.0px;width:43.7px;background:#695e98;border-color:#4b4274;color:#fff;font-size:9.1px;padding-left:0px"><span class="t">TxD0</span></div>
<div class="b" style="left:746.9px;top:108.0px;width:43.4px;background:#695e98;border-color:#4b4274;color:#fff;font-size:9.1px;padding-left:0px"><span class="t">MOSI0</span></div>
<div class="b" style="left:795.0px;top:108.0px;width:43.8px;background:#ffffff;border-color:#8a8a8a;color:#222;font-size:9.1px;padding-left:0px"><span class="t">IRQ1</span></div>
<div class="b" style="left:469.0px;top:120.3px;width:18.3px;background:#767171;border-color:#575353;color:#fff;font-size:9.1px;padding-left:5px"><span class="t">30</span></div>
<div class="b" style="left:497.9px;top:120.3px;width:38.7px;background:#b02428;border-color:#851a1e;color:#fff;font-size:9.1px;padding-left:5px"><span class="t">AREF</span></div>
<div class="b" style="left:547.7px;top:120.3px;width:39.1px;background:#73a84b;border-color:#538037;color:#fff;font-size:9.1px;padding-left:5px"><span class="t">AV<sub style="vertical-align:-2.2px">REFP</sub></span></div>
<div class="b" style="left:469.0px;top:132.5px;width:18.3px;background:#767171;border-color:#575353;color:#fff;font-size:9.1px;padding-left:5px"><span class="t">29</span></div>
<div class="b" style="left:497.9px;top:132.5px;width:38.7px;background:#050505;border-color:#000;color:#fff;font-size:9.1px;padding-left:5px"><span class="t">GND</span></div>
<div class="b" style="left:547.7px;top:132.5px;width:39.1px;background:#050505;border-color:#000;color:#fff;font-size:9.1px;padding-left:5px"><span class="t">GND</span></div>
<div class="b" style="left:469.0px;top:144.6px;width:18.3px;background:#767171;border-color:#575353;color:#fff;font-size:9.1px;padding-left:5px"><span class="t">28</span></div>
<div class="b" style="left:497.9px;top:144.6px;width:38.7px;background:#69a8b1;border-color:#4c8891;color:#f4ffff;font-size:9.1px;padding-left:5px"><span class="t">D13</span></div>
<div class="b" style="left:547.7px;top:144.6px;width:39.1px;background:#302898;border-color:#201a6e;color:#fff;font-size:9.1px;padding-left:5px"><span class="t">P111</span></div>
<div class="b" style="left:648.2px;top:144.6px;width:43.8px;background:#695e98;border-color:#4b4274;color:#fff;font-size:9.1px;padding-left:0px"><span class="t">SCK9</span></div>
<div class="b" style="left:469.0px;top:157.3px;width:18.3px;background:#767171;border-color:#575353;color:#fff;font-size:9.1px;padding-left:5px"><span class="t">27</span></div>
<div class="b" style="left:497.9px;top:157.3px;width:38.7px;background:#69a8b1;border-color:#4c8891;color:#f4ffff;font-size:9.1px;padding-left:5px"><span class="t">D12</span></div>
<div class="b" style="left:547.7px;top:157.3px;width:39.1px;background:#302898;border-color:#201a6e;color:#fff;font-size:9.1px;padding-left:5px"><span class="t">P110</span></div>
<div class="b" style="left:597.8px;top:157.3px;width:44.1px;background:#3e6c8b;border-color:#2b5068;color:#fff;font-size:7.9px;padding-left:0px"><span class="t">GTIOC1B</span></div>
<div class="b" style="left:648.2px;top:157.3px;width:43.8px;background:#695e98;border-color:#4b4274;color:#fff;font-size:9.1px;padding-left:0px"><span class="t">MISO9</span></div>
<div class="b" style="left:699.0px;top:157.3px;width:43.7px;background:#695e98;border-color:#4b4274;color:#fff;font-size:9.1px;padding-left:0px"><span class="t">RxD9</span></div>
<div class="b" style="left:748.4px;top:157.3px;width:43.4px;background:#695e98;border-color:#4b4274;color:#fff;font-size:9.1px;padding-left:0px"><span class="t">SCL9</span></div>
<div class="b" style="left:796.5px;top:157.3px;width:43.8px;background:#ffffff;border-color:#8a8a8a;color:#222;font-size:9.1px;padding-left:0px"><span class="t">IRQ3</span></div>
<div class="b" style="left:469.0px;top:169.5px;width:18.3px;background:#767171;border-color:#575353;color:#fff;font-size:9.1px;padding-left:5px"><span class="t">26</span></div>
<div class="b" style="left:497.9px;top:169.5px;width:38.7px;background:#69a8b1;border-color:#4c8891;color:#f4ffff;font-size:9.1px;padding-left:5px"><span class="t">D11</span></div>
<div class="b" style="left:547.7px;top:169.5px;width:39.1px;background:#302898;border-color:#201a6e;color:#fff;font-size:9.1px;padding-left:5px"><span class="t">P109</span></div>
<div class="b" style="left:597.8px;top:169.5px;width:44.1px;background:#3e6c8b;border-color:#2b5068;color:#fff;font-size:7.9px;padding-left:0px"><span class="t">GTIOC1A</span></div>
<div class="b" style="left:648.2px;top:169.5px;width:43.8px;background:#695e98;border-color:#4b4274;color:#fff;font-size:9.1px;padding-left:0px"><span class="t">MOSI9</span></div>
<div class="b" style="left:699.0px;top:169.5px;width:43.7px;background:#695e98;border-color:#4b4274;color:#fff;font-size:9.1px;padding-left:0px"><span class="t">TxD9</span></div>
<div class="b" style="left:748.4px;top:169.5px;width:43.4px;background:#695e98;border-color:#4b4274;color:#fff;font-size:9.1px;padding-left:0px"><span class="t">SDA9</span></div>
<div class="b" style="left:469.0px;top:181.6px;width:18.3px;background:#767171;border-color:#575353;color:#fff;font-size:9.1px;padding-left:5px"><span class="t">25</span></div>
<div class="b" style="left:497.9px;top:181.6px;width:38.7px;background:#69a8b1;border-color:#4c8891;color:#f4ffff;font-size:9.1px;padding-left:5px"><span class="t">D10</span></div>
<div class="b" style="left:547.7px;top:181.6px;width:39.1px;background:#302898;border-color:#201a6e;color:#fff;font-size:9.1px;padding-left:5px"><span class="t">P301</span></div>
<div class="b" style="left:597.8px;top:181.6px;width:44.1px;background:#3e6c8b;border-color:#2b5068;color:#fff;font-size:7.9px;padding-left:0px"><span class="t">GTIOC4B</span></div>
<div class="b" style="left:648.2px;top:181.6px;width:43.8px;background:#695e98;border-color:#4b4274;color:#fff;font-size:9.1px;padding-left:0px"><span class="t">SS9</span></div>
<div class="b" style="left:699.0px;top:181.6px;width:43.7px;background:#695e98;border-color:#4b4274;color:#fff;font-size:9.1px;padding-left:0px"><span class="t">CTS_RTS9</span></div>
<div class="b" style="left:748.4px;top:181.6px;width:43.4px;background:#ffffff;border-color:#8a8a8a;color:#222;font-size:9.1px;padding-left:0px"><span class="t">IRQ6</span></div>
<div class="b" style="left:469.0px;top:193.7px;width:18.3px;background:#767171;border-color:#575353;color:#fff;font-size:9.1px;padding-left:5px"><span class="t">24</span></div>
<div class="b" style="left:497.9px;top:193.7px;width:38.7px;background:#69a8b1;border-color:#4c8891;color:#f4ffff;font-size:9.1px;padding-left:5px"><span class="t">D9</span></div>
<div class="b" style="left:547.7px;top:193.7px;width:39.1px;background:#302898;border-color:#201a6e;color:#fff;font-size:9.1px;padding-left:5px"><span class="t">P403</span></div>
<div class="b" style="left:597.8px;top:193.7px;width:44.1px;background:#ffffff;border-color:#8a8a8a;color:#222;font-size:9.1px;padding-left:0px"><span class="t">IRQ14-DS</span></div>
<div class="b" style="left:469.0px;top:205.8px;width:18.3px;background:#767171;border-color:#575353;color:#fff;font-size:9.1px;padding-left:5px"><span class="t">23</span></div>
<div class="b" style="left:497.9px;top:205.8px;width:38.7px;background:#69a8b1;border-color:#4c8891;color:#f4ffff;font-size:9.1px;padding-left:5px"><span class="t">D8</span></div>
<div class="b" style="left:547.7px;top:205.8px;width:39.1px;background:#302898;border-color:#201a6e;color:#fff;font-size:9.1px;padding-left:5px"><span class="t">P006</span></div>
<div class="b" style="left:597.8px;top:205.8px;width:44.1px;background:#ffffff;border-color:#8a8a8a;color:#222;font-size:9.1px;padding-left:0px"><span class="t">IRQ11-DS</span></div>
<div class="b" style="left:469.0px;top:225.0px;width:18.3px;background:#767171;border-color:#575353;color:#fff;font-size:9.1px;padding-left:5px"><span class="t">22</span></div>
<div class="b" style="left:497.9px;top:225.0px;width:38.7px;background:#69a8b1;border-color:#4c8891;color:#f4ffff;font-size:9.1px;padding-left:5px"><span class="t">D7</span></div>
<div class="b" style="left:547.7px;top:225.0px;width:39.1px;background:#302898;border-color:#201a6e;color:#fff;font-size:9.1px;padding-left:5px"><span class="t">P008</span></div>
<div class="b" style="left:597.8px;top:225.0px;width:44.1px;background:#ffffff;border-color:#8a8a8a;color:#222;font-size:9.1px;padding-left:0px"><span class="t">IRQ12-DS</span></div>
<div class="b" style="left:469.0px;top:237.0px;width:18.3px;background:#767171;border-color:#575353;color:#fff;font-size:9.1px;padding-left:5px"><span class="t">21</span></div>
<div class="b" style="left:497.9px;top:237.0px;width:38.7px;background:#69a8b1;border-color:#4c8891;color:#f4ffff;font-size:9.1px;padding-left:5px"><span class="t">D6</span></div>
<div class="b" style="left:547.7px;top:237.0px;width:39.1px;background:#302898;border-color:#201a6e;color:#fff;font-size:9.1px;padding-left:5px"><span class="t">P113</span></div>
<div class="b" style="left:469.0px;top:249.4px;width:18.3px;background:#767171;border-color:#575353;color:#fff;font-size:9.1px;padding-left:5px"><span class="t">20</span></div>
<div class="b" style="left:497.9px;top:249.4px;width:38.7px;background:#69a8b1;border-color:#4c8891;color:#f4ffff;font-size:9.1px;padding-left:5px"><span class="t">D5</span></div>
<div class="b" style="left:547.7px;top:249.4px;width:39.1px;background:#302898;border-color:#201a6e;color:#fff;font-size:9.1px;padding-left:5px"><span class="t">P409</span></div>
<div class="b" style="left:597.8px;top:249.4px;width:44.1px;background:#3e6c8b;border-color:#2b5068;color:#fff;font-size:7.9px;padding-left:0px"><span class="t">GTIOC1A</span></div>
<div class="b" style="left:648.2px;top:249.4px;width:43.8px;background:#ffffff;border-color:#8a8a8a;color:#222;font-size:9.1px;padding-left:0px"><span class="t">IRQ6</span></div>
<div class="b" style="left:469.0px;top:261.6px;width:18.3px;background:#767171;border-color:#575353;color:#fff;font-size:9.1px;padding-left:5px"><span class="t">19</span></div>
<div class="b" style="left:497.9px;top:261.6px;width:38.7px;background:#69a8b1;border-color:#4c8891;color:#f4ffff;font-size:9.1px;padding-left:5px"><span class="t">D4</span></div>
<div class="b" style="left:547.7px;top:261.6px;width:39.1px;background:#302898;border-color:#201a6e;color:#fff;font-size:9.1px;padding-left:5px"><span class="t">P500</span></div>
<div class="b" style="left:469.0px;top:273.8px;width:18.3px;background:#767171;border-color:#575353;color:#fff;font-size:9.1px;padding-left:5px"><span class="t">18</span></div>
<div class="b" style="left:497.9px;top:273.8px;width:38.7px;background:#69a8b1;border-color:#4c8891;color:#f4ffff;font-size:9.1px;padding-left:5px"><span class="t">D3</span></div>
<div class="b" style="left:547.7px;top:273.8px;width:39.1px;background:#302898;border-color:#201a6e;color:#fff;font-size:9.1px;padding-left:5px"><span class="t">P408</span></div>
<div class="b" style="left:597.8px;top:273.8px;width:44.1px;background:#3e6c8b;border-color:#2b5068;color:#fff;font-size:7.9px;padding-left:0px"><span class="t">GTIOC1B</span></div>
<div class="b" style="left:648.2px;top:273.8px;width:43.8px;background:#ffffff;border-color:#8a8a8a;color:#222;font-size:9.1px;padding-left:0px"><span class="t">IRQ7</span></div>
<div class="b" style="left:469.0px;top:285.8px;width:18.3px;background:#767171;border-color:#575353;color:#fff;font-size:9.1px;padding-left:5px"><span class="t">17</span></div>
<div class="b" style="left:497.9px;top:285.8px;width:38.7px;background:#69a8b1;border-color:#4c8891;color:#f4ffff;font-size:9.1px;padding-left:5px"><span class="t">D2</span></div>
<div class="b" style="left:547.7px;top:285.8px;width:39.1px;background:#302898;border-color:#201a6e;color:#fff;font-size:9.1px;padding-left:5px"><span class="t">P105</span></div>
<div class="b" style="left:597.8px;top:285.8px;width:44.1px;background:#3e6c8b;border-color:#2b5068;color:#fff;font-size:7.9px;padding-left:0px"><span class="t">GTIOC1A</span></div>
<div class="b" style="left:648.2px;top:285.8px;width:43.8px;background:#ffffff;border-color:#8a8a8a;color:#222;font-size:9.1px;padding-left:0px"><span class="t">IRQ0</span></div>
<div class="b" style="left:469.0px;top:297.9px;width:18.3px;background:#767171;border-color:#575353;color:#fff;font-size:9.1px;padding-left:5px"><span class="t">16</span></div>
<div class="b" style="left:497.9px;top:297.9px;width:38.7px;background:#69a8b1;border-color:#4c8891;color:#f4ffff;font-size:9.1px;padding-left:5px"><span class="t">D1</span></div>
<div class="b" style="left:547.7px;top:297.9px;width:39.1px;background:#302898;border-color:#201a6e;color:#fff;font-size:9.1px;padding-left:5px"><span class="t">P411</span></div>
<div class="b" style="left:597.8px;top:297.9px;width:44.1px;background:#695e98;border-color:#4b4274;color:#fff;font-size:9.1px;padding-left:0px"><span class="t">TxD0</span></div>
<div class="b" style="left:648.2px;top:297.9px;width:43.8px;background:#695e98;border-color:#4b4274;color:#fff;font-size:9.1px;padding-left:0px"><span class="t">MOSI0</span></div>
<div class="b" style="left:697.5px;top:297.9px;width:43.7px;background:#695e98;border-color:#4b4274;color:#fff;font-size:9.1px;padding-left:0px"><span class="t">SDA0</span></div>
<div class="b" style="left:746.9px;top:297.9px;width:43.4px;background:#ffffff;border-color:#8a8a8a;color:#222;font-size:9.1px;padding-left:0px"><span class="t">IRQ4</span></div>
<div class="b" style="left:469.0px;top:310.0px;width:18.3px;background:#767171;border-color:#575353;color:#fff;font-size:9.1px;padding-left:5px"><span class="t">15</span></div>
<div class="b" style="left:497.9px;top:310.0px;width:38.7px;background:#69a8b1;border-color:#4c8891;color:#f4ffff;font-size:9.1px;padding-left:5px"><span class="t">D0</span></div>
<div class="b" style="left:547.7px;top:310.0px;width:39.1px;background:#302898;border-color:#201a6e;color:#fff;font-size:9.1px;padding-left:5px"><span class="t">P410</span></div>
<div class="b" style="left:597.8px;top:310.0px;width:44.1px;background:#695e98;border-color:#4b4274;color:#fff;font-size:9.1px;padding-left:0px"><span class="t">RxD0</span></div>
<div class="b" style="left:648.2px;top:310.0px;width:43.8px;background:#695e98;border-color:#4b4274;color:#fff;font-size:9.1px;padding-left:0px"><span class="t">MISO0</span></div>
<div class="b" style="left:697.5px;top:310.0px;width:43.7px;background:#695e98;border-color:#4b4274;color:#fff;font-size:9.1px;padding-left:0px"><span class="t">SCL0</span></div>
<div class="b" style="left:746.9px;top:310.0px;width:43.4px;background:#ffffff;border-color:#8a8a8a;color:#222;font-size:9.1px;padding-left:0px"><span class="t">IRQ5</span></div>
<svg width="850" height="445" style="position:absolute;left:0;top:0" font-family="Liberation Sans, sans-serif">
<rect x="522.3" y="348.6" width="230.6" height="89.2" rx="19" ry="19" fill="none" stroke="#111" stroke-width="2.9" stroke-linecap="round" stroke-dasharray="0 4.1"/>
<rect x="539.6" y="354.6" width="15.4" height="9.2" rx="2" fill="#767171" stroke="#575353" stroke-width="1"/>
<text x="566" y="364.1" font-size="10.9" fill="#222">Pin no.</text>
<rect x="634.9" y="354.6" width="14.6" height="9.2" rx="2" fill="#73a84b" stroke="#538037" stroke-width="1"/>
<text x="662" y="363.6" font-size="10.9" fill="#222">Analog pin</text>
<rect x="539.6" y="371.8" width="15.4" height="9.2" rx="2" fill="#b02428" stroke="#851a1e" stroke-width="1"/>
<text x="566" y="380.2" font-size="10.9" fill="#222">Power supply</text>
<rect x="634.9" y="371.8" width="14.6" height="9.2" rx="2" fill="#69a8b1" stroke="#4c8891" stroke-width="1"/>
<text x="662.5" y="380.8" font-size="10.9" fill="#222">Digital pin</text>
<rect x="539.6" y="389.3" width="15.4" height="9.2" rx="2" fill="#050505" stroke="#000" stroke-width="1"/>
<text x="565" y="399.2" font-size="10.9" fill="#222">GND</text>
<rect x="634.9" y="389.3" width="14.6" height="9.2" rx="2" fill="#3e6c8b" stroke="#2b5068" stroke-width="1"/>
<text x="664.3" y="399.0" font-size="10.9" fill="#222">PWM function</text>
<rect x="539.6" y="407.2" width="15.4" height="9.2" rx="2" fill="#d8b22c" stroke="#a8891e" stroke-width="1"/>
<text x="564.5" y="416.5" font-size="10.9" fill="#222">Control signal</text>
<rect x="634.9" y="407.2" width="14.6" height="9.2" rx="2" fill="#695e98" stroke="#4b4274" stroke-width="1"/>
<text x="665" y="415.9" font-size="10.9" fill="#222">Serial Comms Int.</text>
<rect x="539.6" y="424.7" width="15.4" height="9.2" rx="2" fill="#302898" stroke="#201a6e" stroke-width="1"/>
<text x="565" y="434.6" font-size="10.9" fill="#222">Port</text>
<rect x="634.9" y="424.7" width="14.6" height="9.2" rx="2" fill="#ffffff" stroke="#8a8a8a" stroke-width="1"/>
<text x="664.3" y="433.9" font-size="10.9" fill="#222">Other function</text>
</svg>
</body></html>
